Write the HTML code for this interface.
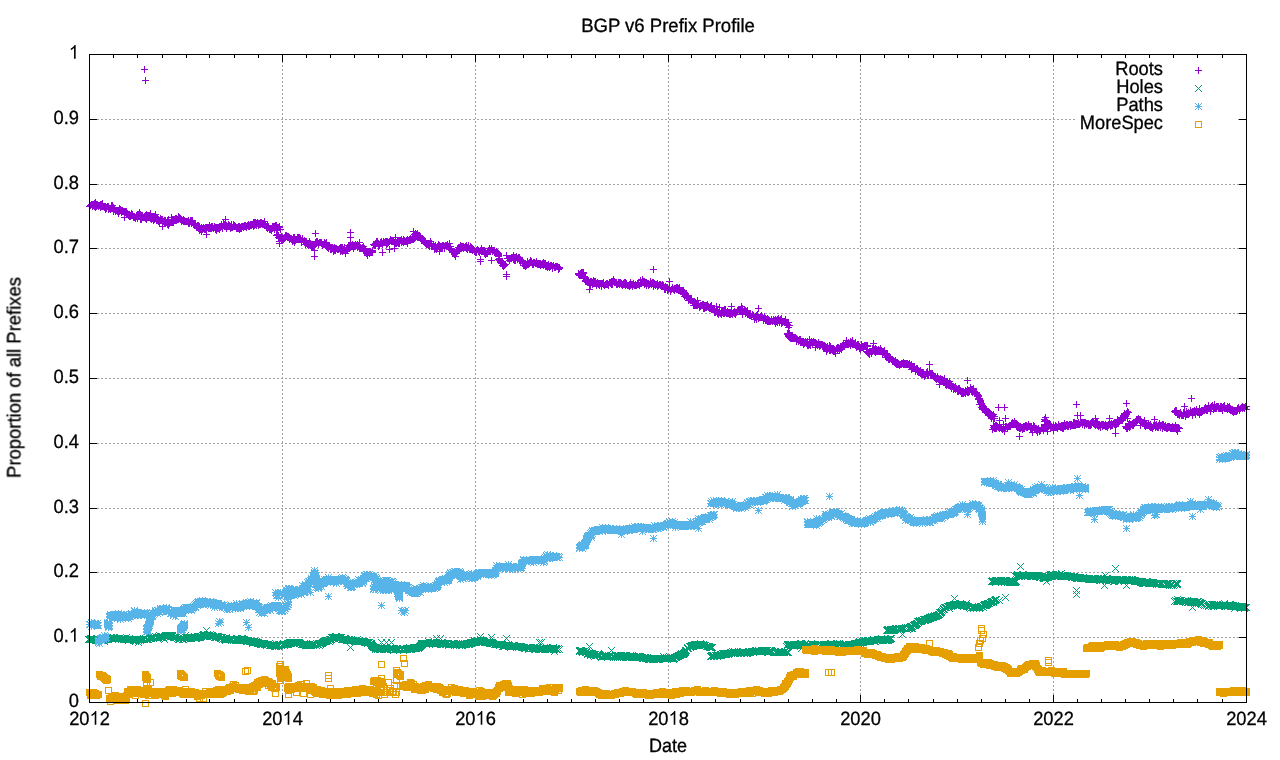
<!DOCTYPE html>
<html><head><meta charset="utf-8"><title>BGP v6 Prefix Profile</title>
<style>
html,body{margin:0;padding:0;background:#fff;}
body{width:1280px;height:760px;overflow:hidden;}
svg{display:block;}
text{font-family:"Liberation Sans",sans-serif;font-size:18.67px;fill:#000;}
.pl{fill:none;stroke:none;}
</style></head><body>
<svg width="1280" height="760" viewBox="0 0 1280 760" shape-rendering="crispEdges">
<rect width="1280" height="760" fill="#fff"/>
<defs>
<marker id="mp" markerUnits="userSpaceOnUse" markerWidth="9" markerHeight="9" refX="0" refY="0" overflow="visible" orient="0"><g fill="#9400d3"><rect x="-3" y="0" width="7" height="1"/><rect x="0" y="-3" width="1" height="7"/></g></marker>
<marker id="mx" markerUnits="userSpaceOnUse" markerWidth="9" markerHeight="9" refX="0" refY="0" overflow="visible" orient="0"><g fill="#009e73"><rect x="-3" y="-3" width="1" height="1"/><rect x="-2" y="-2" width="1" height="1"/><rect x="-1" y="-1" width="1" height="1"/><rect x="0" y="0" width="1" height="1"/><rect x="1" y="1" width="1" height="1"/><rect x="2" y="2" width="1" height="1"/><rect x="3" y="3" width="1" height="1"/><rect x="-3" y="3" width="1" height="1"/><rect x="-2" y="2" width="1" height="1"/><rect x="-1" y="1" width="1" height="1"/><rect x="1" y="-1" width="1" height="1"/><rect x="2" y="-2" width="1" height="1"/><rect x="3" y="-3" width="1" height="1"/></g></marker>
<marker id="ma" markerUnits="userSpaceOnUse" markerWidth="9" markerHeight="9" refX="0" refY="0" overflow="visible" orient="0"><g fill="#56b4e9"><rect x="-3" y="0" width="7" height="1"/><rect x="0" y="-3" width="1" height="7"/><rect x="-3" y="-3" width="1" height="1"/><rect x="-2" y="-2" width="1" height="1"/><rect x="-1" y="-1" width="1" height="1"/><rect x="1" y="1" width="1" height="1"/><rect x="2" y="2" width="1" height="1"/><rect x="3" y="3" width="1" height="1"/><rect x="-3" y="3" width="1" height="1"/><rect x="-2" y="2" width="1" height="1"/><rect x="-1" y="1" width="1" height="1"/><rect x="1" y="-1" width="1" height="1"/><rect x="2" y="-2" width="1" height="1"/><rect x="3" y="-3" width="1" height="1"/></g></marker>
<marker id="ms" markerUnits="userSpaceOnUse" markerWidth="9" markerHeight="9" refX="0" refY="0" overflow="visible" orient="0"><g fill="#e69f00"><rect x="-3" y="-3" width="7" height="1"/><rect x="-3" y="3" width="7" height="1"/><rect x="-3" y="-2" width="1" height="5"/><rect x="3" y="-2" width="1" height="5"/></g></marker>
</defs>
<g stroke="#a0a0a0" stroke-width="1" stroke-dasharray="2 2" fill="none">
<line x1="89" y1="637.5" x2="1246" y2="637.5"/><line x1="89" y1="572.5" x2="1246" y2="572.5"/><line x1="89" y1="508.5" x2="1246" y2="508.5"/><line x1="89" y1="443.5" x2="1246" y2="443.5"/><line x1="89" y1="378.5" x2="1246" y2="378.5"/><line x1="89" y1="313.5" x2="1246" y2="313.5"/><line x1="89" y1="248.5" x2="1246" y2="248.5"/><line x1="89" y1="184.5" x2="1246" y2="184.5"/><line x1="89" y1="119.5" x2="1246" y2="119.5"/><line x1="282.5" y1="703" x2="282.5" y2="54"/><line x1="475.5" y1="703" x2="475.5" y2="54"/><line x1="668.5" y1="703" x2="668.5" y2="54"/><line x1="860.5" y1="703" x2="860.5" y2="54"/><line x1="1053.5" y1="703" x2="1053.5" y2="54"/>
</g>
<g fill="#000">
<rect x="89" y="702" width="8" height="1"/><rect x="1239" y="702" width="8" height="1"/><rect x="89" y="637" width="8" height="1"/><rect x="1239" y="637" width="8" height="1"/><rect x="89" y="572" width="8" height="1"/><rect x="1239" y="572" width="8" height="1"/><rect x="89" y="508" width="8" height="1"/><rect x="1239" y="508" width="8" height="1"/><rect x="89" y="443" width="8" height="1"/><rect x="1239" y="443" width="8" height="1"/><rect x="89" y="378" width="8" height="1"/><rect x="1239" y="378" width="8" height="1"/><rect x="89" y="313" width="8" height="1"/><rect x="1239" y="313" width="8" height="1"/><rect x="89" y="248" width="8" height="1"/><rect x="1239" y="248" width="8" height="1"/><rect x="89" y="184" width="8" height="1"/><rect x="1239" y="184" width="8" height="1"/><rect x="89" y="119" width="8" height="1"/><rect x="1239" y="119" width="8" height="1"/><rect x="89" y="54" width="8" height="1"/><rect x="1239" y="54" width="8" height="1"/><rect x="89" y="695" width="1" height="8"/><rect x="89" y="54" width="1" height="8"/><rect x="282" y="695" width="1" height="8"/><rect x="282" y="54" width="1" height="8"/><rect x="475" y="695" width="1" height="8"/><rect x="475" y="54" width="1" height="8"/><rect x="668" y="695" width="1" height="8"/><rect x="668" y="54" width="1" height="8"/><rect x="860" y="695" width="1" height="8"/><rect x="860" y="54" width="1" height="8"/><rect x="1053" y="695" width="1" height="8"/><rect x="1053" y="54" width="1" height="8"/><rect x="1246" y="695" width="1" height="8"/><rect x="1246" y="54" width="1" height="8"/><rect x="113" y="699" width="1" height="4"/><rect x="113" y="54" width="1" height="4"/><rect x="137" y="699" width="1" height="4"/><rect x="137" y="54" width="1" height="4"/><rect x="162" y="699" width="1" height="4"/><rect x="162" y="54" width="1" height="4"/><rect x="186" y="699" width="1" height="4"/><rect x="186" y="54" width="1" height="4"/><rect x="209" y="699" width="1" height="4"/><rect x="209" y="54" width="1" height="4"/><rect x="234" y="699" width="1" height="4"/><rect x="234" y="54" width="1" height="4"/><rect x="258" y="699" width="1" height="4"/><rect x="258" y="54" width="1" height="4"/><rect x="306" y="699" width="1" height="4"/><rect x="306" y="54" width="1" height="4"/><rect x="330" y="699" width="1" height="4"/><rect x="330" y="54" width="1" height="4"/><rect x="354" y="699" width="1" height="4"/><rect x="354" y="54" width="1" height="4"/><rect x="378" y="699" width="1" height="4"/><rect x="378" y="54" width="1" height="4"/><rect x="402" y="699" width="1" height="4"/><rect x="402" y="54" width="1" height="4"/><rect x="426" y="699" width="1" height="4"/><rect x="426" y="54" width="1" height="4"/><rect x="451" y="699" width="1" height="4"/><rect x="451" y="54" width="1" height="4"/><rect x="499" y="699" width="1" height="4"/><rect x="499" y="54" width="1" height="4"/><rect x="523" y="699" width="1" height="4"/><rect x="523" y="54" width="1" height="4"/><rect x="547" y="699" width="1" height="4"/><rect x="547" y="54" width="1" height="4"/><rect x="571" y="699" width="1" height="4"/><rect x="571" y="54" width="1" height="4"/><rect x="595" y="699" width="1" height="4"/><rect x="595" y="54" width="1" height="4"/><rect x="619" y="699" width="1" height="4"/><rect x="619" y="54" width="1" height="4"/><rect x="643" y="699" width="1" height="4"/><rect x="643" y="54" width="1" height="4"/><rect x="691" y="699" width="1" height="4"/><rect x="691" y="54" width="1" height="4"/><rect x="715" y="699" width="1" height="4"/><rect x="715" y="54" width="1" height="4"/><rect x="740" y="699" width="1" height="4"/><rect x="740" y="54" width="1" height="4"/><rect x="764" y="699" width="1" height="4"/><rect x="764" y="54" width="1" height="4"/><rect x="788" y="699" width="1" height="4"/><rect x="788" y="54" width="1" height="4"/><rect x="812" y="699" width="1" height="4"/><rect x="812" y="54" width="1" height="4"/><rect x="836" y="699" width="1" height="4"/><rect x="836" y="54" width="1" height="4"/><rect x="884" y="699" width="1" height="4"/><rect x="884" y="54" width="1" height="4"/><rect x="908" y="699" width="1" height="4"/><rect x="908" y="54" width="1" height="4"/><rect x="933" y="699" width="1" height="4"/><rect x="933" y="54" width="1" height="4"/><rect x="957" y="699" width="1" height="4"/><rect x="957" y="54" width="1" height="4"/><rect x="981" y="699" width="1" height="4"/><rect x="981" y="54" width="1" height="4"/><rect x="1005" y="699" width="1" height="4"/><rect x="1005" y="54" width="1" height="4"/><rect x="1029" y="699" width="1" height="4"/><rect x="1029" y="54" width="1" height="4"/><rect x="1077" y="699" width="1" height="4"/><rect x="1077" y="54" width="1" height="4"/><rect x="1101" y="699" width="1" height="4"/><rect x="1101" y="54" width="1" height="4"/><rect x="1125" y="699" width="1" height="4"/><rect x="1125" y="54" width="1" height="4"/><rect x="1149" y="699" width="1" height="4"/><rect x="1149" y="54" width="1" height="4"/><rect x="1173" y="699" width="1" height="4"/><rect x="1173" y="54" width="1" height="4"/><rect x="1197" y="699" width="1" height="4"/><rect x="1197" y="54" width="1" height="4"/><rect x="1222" y="699" width="1" height="4"/><rect x="1222" y="54" width="1" height="4"/>
</g>
<rect x="1076" y="59" width="162" height="77" fill="#fff"/>
<polyline class="pl" marker-start="url(#mp)" marker-mid="url(#mp)" marker-end="url(#mp)" points="89,206 90,205 91,204 92,204 92,206 93,204 93,205 94,203 94,206 95,202 95,203 95,207 96,204 96,206 97,204 97,205 98,205 98,206 99,205 100,204 100,207 101,204 101,206 102,203 102,204 102,206 103,206 104,206 104,207 105,207 105,208 105,209 106,207 106,208 107,206 108,206 108,207 108,209 109,208 110,208 110,209 111,205 111,208 112,205 112,208 113,207 113,209 113,211 114,209 115,211 116,210 117,210 117,211 118,210 118,213 119,208 119,211 120,209 120,210 121,210 121,211 121,212 122,210 123,211 124,211 124,214 124,217 125,211 125,212 126,211 126,212 127,213 127,214 128,215 129,214 129,216 130,215 130,216 131,213 131,214 131,215 132,214 132,215 133,217 134,216 134,217 135,217 135,218 136,216 137,214 137,215 137,218 138,214 138,215 138,216 139,212 139,213 139,215 139,216 140,214 140,215 140,216 140,219 141,218 141,219 142,217 143,217 144,69 144,216 144,217 145,80 145,215 145,218 146,214 146,217 146,219 147,215 147,217 148,215 148,217 149,215 149,217 150,213 150,217 150,218 151,217 151,219 152,216 152,218 153,217 153,220 154,216 154,219 155,214 155,216 155,218 156,217 156,220 157,218 157,219 158,220 158,221 159,220 159,223 160,218 160,219 161,219 161,220 162,219 162,222 162,226 163,221 164,220 164,221 164,222 165,220 165,221 166,222 167,220 167,222 167,224 168,219 168,225 169,222 169,223 170,222 171,217 171,221 171,222 172,219 172,222 173,219 173,222 174,219 174,220 175,218 175,220 176,218 176,220 177,219 178,216 178,217 178,219 179,217 179,218 180,218 180,219 181,220 181,221 182,220 183,219 183,221 184,220 184,221 185,221 186,221 187,221 188,220 188,223 189,222 189,223 190,220 191,220 191,223 192,220 192,221 192,222 193,223 193,224 194,224 194,225 195,223 195,224 195,225 196,226 196,227 197,225 197,226 198,225 198,226 199,226 199,228 199,230 200,228 200,229 201,227 201,229 201,231 202,228 202,229 203,227 204,228 204,229 205,227 205,229 206,227 206,228 206,234 207,227 208,227 208,228 209,225 209,228 210,227 210,228 211,226 211,228 212,226 212,227 213,228 214,226 214,227 215,227 215,229 216,227 216,230 217,227 217,228 218,228 219,226 219,228 219,229 220,226 220,227 221,224 221,226 222,226 222,228 223,223 223,225 224,224 224,226 225,219 225,225 225,226 226,225 226,226 226,228 227,226 228,224 228,225 228,226 229,225 229,226 230,226 230,228 231,224 231,226 231,227 232,227 233,224 233,226 234,225 234,226 235,226 236,228 237,227 237,228 238,226 238,227 238,228 239,226 239,229 240,227 240,228 241,226 241,228 242,226 243,226 243,227 244,225 244,226 245,225 245,226 246,226 246,227 247,225 248,224 248,225 248,226 249,225 249,226 250,224 250,225 251,224 251,225 252,224 253,222 253,226 254,222 254,225 255,222 255,223 255,224 256,223 256,224 256,225 257,222 257,223 258,223 258,225 259,223 259,224 260,222 260,224 261,222 261,223 262,223 262,224 263,223 264,221 264,225 265,224 265,225 266,226 266,227 267,225 267,226 267,228 268,226 268,227 269,228 269,229 270,229 271,228 271,230 272,226 272,228 273,226 273,227 274,226 274,229 275,225 275,227 276,225 276,228 276,235 277,227 277,228 277,234 277,235 278,227 278,235 278,237 279,226 279,227 279,237 279,241 279,243 280,229 280,237 280,238 281,236 281,239 282,237 282,240 283,238 283,239 284,237 284,238 285,235 285,236 286,235 286,236 287,236 287,237 288,236 288,237 289,237 289,239 290,238 291,238 291,239 292,239 292,241 293,237 293,240 294,237 294,242 295,239 295,240 296,239 297,237 297,239 298,237 298,238 299,237 299,239 300,238 300,239 301,240 301,242 302,238 303,241 304,240 304,241 304,242 305,241 305,242 305,244 306,241 306,243 307,243 307,244 308,243 308,245 309,241 309,244 310,243 310,244 310,245 311,245 311,246 312,244 312,246 313,245 313,246 314,244 314,245 314,250 314,256 315,233 315,242 315,244 316,241 316,242 316,243 317,241 317,242 318,243 318,244 319,242 320,242 321,242 321,243 322,244 322,245 323,244 324,242 324,244 325,243 325,244 326,242 326,245 326,246 327,246 327,247 328,245 328,247 328,248 329,245 329,246 330,247 330,249 331,247 331,249 332,247 333,248 333,251 334,247 334,249 334,250 335,248 335,249 335,250 336,248 337,249 338,249 339,248 340,247 340,251 341,247 341,250 342,247 342,251 343,249 343,250 344,247 344,250 345,250 345,251 345,253 346,248 346,249 347,248 347,249 348,245 348,247 348,248 349,245 349,247 349,248 350,232 350,237 350,244 350,245 350,247 351,245 351,246 352,244 352,246 353,245 353,248 354,245 354,246 355,244 355,246 356,245 357,244 357,245 357,247 358,246 359,242 359,248 360,247 360,248 361,248 362,247 363,246 363,248 363,249 364,248 364,249 364,251 365,249 365,250 365,251 366,251 366,252 366,253 367,254 367,255 368,251 368,252 369,251 369,253 370,251 370,252 371,252 372,250 372,251 372,252 373,244 374,244 374,245 375,243 375,245 376,241 376,243 377,241 377,243 378,243 378,245 378,246 379,244 379,245 380,242 380,243 381,241 381,242 382,243 382,244 382,252 383,241 383,242 384,242 385,241 385,242 386,241 386,242 386,244 387,241 387,243 388,242 389,241 389,249 390,239 390,240 391,240 391,241 392,240 392,241 393,240 393,241 394,242 394,248 395,237 395,243 396,242 396,243 397,240 397,242 398,241 398,243 399,240 399,241 399,243 400,240 401,239 401,240 401,242 402,241 403,239 403,242 404,240 404,241 405,241 406,240 406,241 407,239 407,241 407,243 408,240 409,239 409,240 410,238 410,240 411,239 412,236 412,238 412,239 413,231 413,237 413,239 414,234 414,236 414,237 414,238 415,233 415,236 415,237 416,234 416,235 417,233 417,236 417,237 418,235 418,236 419,235 419,237 420,236 420,237 420,238 421,238 421,239 421,240 422,238 422,239 422,240 423,240 423,241 424,240 424,241 424,242 425,242 425,243 426,243 426,244 427,244 428,243 428,244 428,245 429,243 429,246 430,241 430,243 431,243 431,245 431,246 432,246 433,245 433,246 434,246 434,249 435,245 435,248 436,247 436,249 437,246 437,248 438,244 438,245 439,245 439,247 439,251 440,246 440,247 441,246 441,247 442,245 442,246 442,248 443,245 444,246 444,248 445,245 446,245 447,244 447,245 448,246 449,243 449,246 449,249 450,246 450,248 450,249 451,250 452,251 452,252 453,252 454,251 454,252 454,254 455,252 455,256 456,250 456,252 456,253 457,249 457,250 458,247 458,249 459,247 459,248 460,245 460,246 460,248 461,246 461,248 462,246 462,247 463,246 463,248 464,247 465,246 465,247 466,245 466,246 466,248 467,247 467,249 468,245 468,247 469,248 469,249 470,246 470,248 470,249 471,247 471,249 472,248 472,250 473,249 474,250 474,251 475,252 476,250 476,251 476,252 477,249 478,250 478,251 479,251 479,252 480,250 480,259 480,261 481,248 481,251 482,250 482,251 483,250 483,251 484,250 484,253 485,251 485,252 485,254 486,253 487,252 487,253 488,250 489,248 489,251 490,250 490,251 491,248 491,260 492,250 492,251 493,250 494,250 494,252 495,252 495,253 496,251 497,252 497,253 498,253 498,254 498,255 498,256 498,259 499,258 499,259 499,260 500,261 500,262 501,263 502,262 502,265 503,263 503,265 503,266 504,264 504,265 505,264 506,255 506,274 506,276 507,258 508,258 509,258 509,260 510,258 511,257 511,258 512,257 513,255 513,257 513,259 514,257 514,260 515,257 515,260 516,256 516,257 517,258 517,259 518,257 518,258 519,257 519,258 520,259 520,260 520,261 521,260 522,260 522,261 522,262 522,263 523,262 523,265 524,263 524,265 525,265 525,266 526,264 526,265 527,261 527,263 527,264 528,263 528,264 529,262 529,263 530,260 530,261 530,262 531,261 531,262 532,263 532,264 533,262 533,264 534,262 535,263 536,261 536,263 537,263 537,264 538,263 538,264 539,263 539,264 540,263 540,264 540,265 541,264 542,263 542,264 543,262 543,263 543,265 544,263 545,263 545,264 545,266 546,266 547,265 547,267 548,264 548,266 549,266 549,267 550,265 550,266 551,265 552,266 552,268 553,265 554,267 555,266 555,267 556,266 557,266 558,267 558,269 559,267 559,268 578,273 578,274 579,274 579,275 580,273 580,274 581,272 581,273 582,272 582,273 582,274 582,275 583,272 583,273 583,276 583,278 584,277 584,278 585,278 585,280 585,281 586,279 586,280 587,279 587,280 587,282 588,280 588,282 589,282 589,283 589,284 589,289 590,281 590,285 591,281 591,282 592,282 592,283 592,284 593,280 593,283 594,281 594,283 595,281 595,283 596,283 596,285 597,282 597,283 598,283 598,284 599,283 599,285 600,283 601,283 601,284 601,286 602,283 603,282 603,284 604,285 605,284 606,283 606,284 607,283 607,284 608,284 608,285 609,282 610,282 610,283 611,281 611,284 612,281 612,284 613,279 613,281 614,281 614,282 615,282 616,282 616,284 617,284 618,282 618,283 619,282 619,284 620,282 620,283 621,283 621,284 622,284 622,285 623,283 623,284 624,282 624,284 625,282 625,285 626,283 626,284 627,285 628,285 629,284 629,286 630,282 630,285 631,284 632,284 632,286 633,283 633,284 634,285 635,284 635,285 636,285 637,283 637,284 638,282 638,284 639,285 640,280 640,282 640,283 641,282 641,283 642,279 642,282 643,281 643,282 644,281 644,282 644,284 645,283 646,282 646,284 646,285 647,283 648,283 648,284 648,285 649,284 650,281 650,283 651,283 651,284 652,282 652,283 653,269 653,282 653,286 654,283 654,284 655,284 655,285 656,284 657,283 657,285 657,286 658,285 659,284 660,284 660,285 661,285 662,284 662,286 663,285 663,286 664,289 665,286 665,287 665,289 666,287 667,287 667,288 667,290 668,289 669,281 669,287 669,288 670,290 670,291 671,289 672,287 672,288 673,289 674,288 674,289 674,290 675,288 676,287 676,289 677,287 677,289 678,288 678,289 678,290 679,287 679,289 679,290 680,290 680,291 681,290 681,291 682,291 682,292 683,290 683,291 683,294 684,292 684,296 685,295 686,295 686,296 686,297 687,296 688,296 688,297 688,298 688,300 689,298 689,299 690,298 690,299 691,298 691,299 692,302 693,302 693,303 693,305 694,303 694,305 695,302 695,303 695,305 696,304 696,305 697,300 697,304 697,305 698,303 699,306 699,307 700,305 700,306 701,305 702,304 702,305 703,304 703,308 704,305 704,307 704,308 705,305 705,307 706,305 706,306 706,307 707,304 707,306 708,306 708,307 709,307 709,308 710,306 710,308 711,305 711,308 712,308 712,309 713,308 713,309 714,309 714,312 715,311 715,312 716,306 716,310 716,311 717,310 717,313 718,312 718,313 718,314 719,307 719,312 720,313 721,310 721,311 721,314 722,310 722,312 723,310 723,312 723,313 724,309 724,313 725,309 725,311 725,312 726,312 726,313 727,311 727,312 727,313 728,312 728,313 729,312 729,313 729,314 730,312 730,314 731,306 731,312 731,313 732,313 732,314 733,312 734,311 734,313 735,312 735,314 736,312 737,310 737,311 738,309 739,309 739,311 740,309 740,310 741,306 741,309 741,310 742,308 742,314 743,311 744,310 745,310 745,313 746,311 746,312 747,310 747,314 748,313 748,314 749,313 749,314 749,315 750,314 750,315 751,316 752,314 753,315 753,316 754,317 754,319 755,316 755,317 756,315 756,316 756,319 757,314 757,316 758,308 758,318 759,317 760,316 760,317 761,315 761,316 761,317 762,317 763,319 763,320 764,316 764,318 765,318 765,319 765,320 766,319 766,320 767,318 767,321 768,319 768,321 769,320 769,321 770,321 771,319 771,320 772,321 773,319 773,320 774,320 774,321 775,319 775,320 775,323 776,320 776,321 777,319 777,322 778,318 778,319 779,320 779,322 780,319 780,320 781,318 781,323 782,321 782,322 783,321 784,321 784,322 785,319 785,321 785,322 786,322 786,323 787,322 787,324 787,333 787,334 788,322 788,325 788,327 788,333 788,335 788,336 789,325 789,333 789,334 789,337 790,335 790,336 790,338 791,335 791,337 791,338 792,335 792,338 793,337 793,338 794,337 795,337 795,338 796,338 796,341 797,339 798,341 799,339 799,340 800,339 800,342 801,341 801,342 802,341 802,342 803,341 803,344 804,342 804,343 805,341 806,342 806,343 807,341 807,343 807,345 808,345 809,339 809,341 809,344 810,342 810,345 811,341 812,343 813,341 813,342 814,342 815,342 815,343 815,347 816,343 816,344 817,344 817,345 818,342 818,343 818,344 819,344 819,346 820,344 820,345 821,344 822,344 822,346 823,345 823,347 824,345 824,347 825,346 825,347 826,347 826,349 826,351 827,346 827,349 828,348 829,345 829,346 829,349 829,350 830,346 830,350 831,348 831,349 832,350 833,348 833,350 833,351 834,349 834,351 835,351 835,353 836,348 837,347 837,349 837,350 838,347 838,348 839,348 839,350 840,348 841,347 841,349 842,345 842,346 843,343 843,344 843,346 844,345 844,346 845,343 845,344 846,340 846,343 846,344 847,343 847,344 848,342 848,344 849,343 850,341 850,345 851,342 851,343 852,340 852,343 852,344 853,343 853,344 854,343 854,344 855,342 855,345 856,346 856,347 857,344 857,345 858,344 858,345 858,346 859,346 859,348 860,347 860,349 861,344 861,347 862,346 862,347 863,346 863,348 864,345 864,346 865,345 865,346 866,345 866,346 866,351 867,345 867,346 867,349 867,352 868,352 868,353 869,352 869,354 870,351 871,352 871,353 872,348 872,350 873,343 873,349 873,350 874,349 874,351 875,348 875,352 876,349 876,351 877,350 877,351 878,349 878,350 878,351 879,350 879,351 880,348 880,350 881,350 882,352 882,353 882,354 883,352 884,350 884,353 885,353 885,354 885,355 886,354 886,355 886,357 887,354 887,355 887,357 888,356 888,357 888,359 889,356 889,357 889,359 890,358 891,359 892,359 892,360 892,361 893,360 893,361 894,361 894,362 895,360 895,361 895,363 896,362 896,363 896,364 897,362 897,364 898,364 899,364 899,365 900,364 901,363 901,364 902,363 903,362 903,364 904,363 904,364 905,363 905,364 906,363 906,364 907,363 907,364 908,364 909,363 909,364 909,366 910,365 910,366 911,364 911,366 911,369 912,366 913,366 913,367 914,366 914,368 915,370 915,371 916,368 917,368 917,370 917,371 918,370 918,372 919,372 920,370 920,371 920,373 921,372 921,374 922,372 922,374 923,372 923,374 924,376 925,374 925,375 926,372 926,373 927,371 927,375 928,374 928,375 929,364 929,371 930,373 930,374 930,375 931,373 931,374 931,375 932,373 932,374 933,375 933,376 934,376 934,377 935,378 936,378 936,379 937,376 937,378 938,378 938,379 939,379 939,384 940,378 940,381 941,379 941,381 942,379 942,380 943,380 943,381 943,382 944,378 944,381 945,383 945,384 946,382 946,385 947,381 947,382 947,384 948,383 949,381 949,384 949,385 950,383 950,386 951,385 951,387 951,388 952,386 953,387 953,388 953,389 954,387 955,386 955,389 956,388 957,389 957,390 957,391 958,388 958,390 958,391 959,388 960,390 960,391 961,391 961,393 962,391 962,392 962,393 963,391 963,393 964,392 965,390 965,391 965,393 966,391 967,380 967,389 967,392 968,391 968,392 969,390 969,391 970,387 970,388 970,389 971,389 971,391 972,389 972,392 973,388 973,391 974,391 974,392 974,393 975,392 976,392 976,393 976,394 977,394 977,395 978,395 978,396 978,398 978,399 979,398 979,399 979,404 980,400 980,401 980,402 981,403 981,404 981,407 982,405 982,406 982,407 982,408 982,409 983,408 983,409 984,408 984,409 984,410 985,409 985,410 985,411 985,412 986,409 987,411 987,412 987,413 988,411 988,414 989,412 989,415 990,413 990,415 990,416 991,416 991,418 992,415 992,416 992,429 993,414 993,418 993,425 993,427 994,416 994,418 994,426 994,427 994,428 995,425 995,428 996,425 996,428 997,426 998,407 998,427 999,420 999,427 999,428 1000,427 1001,427 1001,428 1002,429 1003,424 1003,426 1003,428 1004,407 1004,429 1004,431 1005,418 1005,426 1005,428 1006,426 1007,427 1007,428 1008,426 1009,425 1009,426 1010,425 1010,426 1011,423 1011,424 1012,422 1012,424 1013,423 1013,424 1014,421 1014,423 1015,423 1015,424 1016,423 1016,426 1017,425 1017,427 1018,425 1018,427 1019,426 1019,428 1019,436 1020,426 1020,428 1021,427 1022,427 1022,428 1022,429 1023,426 1023,428 1024,426 1024,427 1024,428 1025,425 1026,425 1026,427 1027,426 1027,427 1028,424 1028,425 1028,426 1029,426 1030,426 1030,427 1030,429 1031,426 1031,427 1031,428 1032,429 1032,432 1033,425 1033,427 1034,426 1034,427 1034,428 1035,428 1035,429 1036,428 1036,430 1037,431 1037,432 1038,428 1038,429 1039,431 1040,430 1041,427 1042,427 1042,428 1043,427 1043,430 1044,419 1044,421 1044,425 1044,426 1044,427 1045,417 1045,420 1045,427 1045,428 1046,420 1046,421 1046,426 1046,428 1047,424 1047,428 1047,431 1048,425 1048,426 1049,425 1050,424 1050,426 1051,426 1051,427 1052,427 1053,425 1053,426 1053,430 1054,427 1055,425 1055,426 1056,426 1056,427 1057,428 1058,424 1058,426 1059,426 1060,426 1060,427 1061,425 1061,427 1062,425 1062,428 1063,425 1063,427 1063,428 1064,423 1064,426 1065,425 1065,426 1066,424 1066,425 1067,424 1067,426 1068,425 1068,426 1069,424 1070,424 1070,426 1071,424 1071,425 1072,425 1073,422 1073,424 1073,425 1074,422 1074,425 1075,423 1075,425 1076,404 1076,423 1076,424 1077,415 1077,423 1077,424 1078,422 1078,424 1079,424 1080,415 1080,422 1080,423 1081,422 1082,422 1082,424 1083,422 1084,422 1084,424 1084,425 1085,422 1085,423 1086,423 1086,424 1087,423 1088,423 1088,425 1089,424 1089,425 1090,423 1090,425 1091,422 1091,424 1092,422 1093,422 1093,423 1094,423 1094,424 1095,418 1095,425 1096,422 1096,424 1097,422 1097,425 1098,424 1098,426 1099,424 1099,425 1100,425 1100,427 1101,424 1102,424 1102,426 1103,424 1103,425 1104,425 1105,424 1105,425 1105,426 1106,425 1106,426 1107,425 1107,427 1108,424 1108,425 1109,418 1109,424 1110,424 1110,425 1110,426 1111,423 1111,425 1112,424 1112,425 1113,423 1114,423 1114,424 1115,423 1115,426 1115,433 1116,422 1116,424 1117,419 1117,420 1117,423 1118,420 1118,422 1118,423 1119,420 1119,421 1120,420 1121,419 1121,420 1122,418 1122,419 1122,420 1123,415 1123,416 1123,418 1124,413 1124,414 1124,416 1125,414 1125,415 1125,416 1125,426 1126,403 1126,413 1126,414 1126,426 1126,427 1126,428 1127,411 1127,412 1127,418 1127,427 1127,428 1128,412 1128,424 1128,426 1129,423 1129,427 1130,424 1130,425 1130,426 1131,424 1132,423 1132,424 1132,425 1133,423 1133,425 1134,422 1134,423 1135,421 1135,422 1136,419 1136,421 1137,419 1137,420 1138,418 1138,419 1139,419 1139,420 1140,419 1140,420 1140,425 1141,421 1141,422 1142,422 1142,423 1143,422 1143,423 1144,420 1144,422 1144,423 1144,425 1145,423 1145,426 1146,423 1146,424 1146,425 1147,425 1148,423 1148,425 1149,425 1149,426 1150,424 1150,426 1150,427 1151,426 1151,427 1152,428 1153,425 1153,426 1154,419 1154,425 1155,425 1155,427 1156,424 1156,425 1156,426 1157,427 1158,425 1158,427 1159,423 1159,424 1160,425 1160,426 1160,427 1161,425 1162,424 1162,425 1162,428 1163,424 1163,426 1164,426 1164,427 1165,425 1165,427 1166,427 1166,428 1167,426 1167,427 1167,428 1168,426 1168,427 1169,426 1169,427 1170,427 1170,428 1171,427 1171,428 1172,426 1172,428 1173,427 1173,428 1174,411 1174,427 1175,410 1175,412 1175,425 1175,428 1176,410 1176,411 1176,427 1176,429 1177,413 1177,414 1177,427 1177,431 1178,413 1178,414 1178,427 1178,428 1179,414 1179,415 1179,428 1180,412 1180,413 1181,414 1181,415 1182,415 1183,412 1183,413 1183,415 1184,406 1184,412 1184,413 1185,415 1185,416 1186,411 1186,413 1186,414 1187,413 1187,414 1188,412 1188,414 1189,413 1190,410 1190,412 1191,398 1191,412 1192,411 1192,413 1192,415 1193,411 1194,410 1194,411 1195,411 1195,414 1196,409 1196,411 1197,411 1197,412 1198,411 1198,412 1199,408 1199,411 1199,414 1200,412 1201,410 1201,411 1201,412 1202,410 1203,410 1204,408 1204,409 1204,410 1205,407 1205,409 1206,408 1206,409 1206,410 1207,408 1207,410 1208,405 1208,406 1208,408 1209,408 1210,407 1210,411 1211,406 1211,408 1212,405 1212,406 1213,408 1213,409 1214,404 1214,408 1215,407 1215,408 1216,406 1216,408 1217,406 1218,406 1218,407 1218,408 1219,408 1220,406 1220,408 1221,406 1221,407 1221,408 1222,407 1222,410 1223,406 1223,407 1224,405 1224,407 1224,408 1225,408 1226,408 1227,406 1227,407 1227,409 1228,407 1228,408 1229,406 1229,407 1229,409 1230,408 1230,410 1231,409 1231,410 1232,410 1232,411 1233,410 1233,412 1234,410 1234,411 1235,410 1235,411 1236,410 1236,411 1237,408 1237,409 1237,410 1238,407 1238,408 1239,409 1239,410 1240,408 1241,407 1242,406 1242,407 1242,408 1243,407 1244,407 1244,408 1245,406 1246,406 1246,409"/>
<polyline class="pl" marker-start="url(#mx)" marker-mid="url(#mx)" marker-end="url(#mx)" points="88,639 89,639 90,638 90,639 91,638 91,639 92,639 93,639 94,639 95,639 95,640 96,640 97,640 98,640 99,640 100,639 101,639 101,640 102,640 103,639 104,639 104,640 104,641 105,639 106,638 106,639 107,638 107,639 108,638 108,639 109,638 110,637 111,637 111,638 112,638 113,637 113,638 114,638 115,638 116,638 117,638 118,638 118,639 119,638 120,637 121,638 121,639 122,638 123,638 123,639 124,638 124,639 125,638 125,639 126,637 126,639 127,639 128,639 128,640 129,638 129,639 130,639 131,639 132,639 133,639 133,640 134,639 135,640 135,641 136,640 137,639 138,639 138,640 138,642 139,639 140,639 140,640 141,639 142,639 143,638 143,639 144,639 145,638 146,639 147,639 148,639 149,638 150,637 150,638 151,637 151,638 152,637 153,637 153,638 154,637 155,636 156,637 157,637 157,638 158,636 158,637 159,635 160,636 160,637 161,636 161,637 162,636 162,637 163,637 164,636 164,639 165,636 166,635 166,636 167,635 167,636 168,635 168,636 169,635 170,635 171,635 171,636 172,635 172,636 173,637 174,636 174,637 175,637 176,637 177,638 178,639 179,639 180,638 181,638 182,639 183,639 184,638 185,635 185,637 186,637 186,638 187,638 188,637 188,638 189,637 190,637 190,638 191,637 191,638 192,637 193,637 194,636 194,637 195,637 195,638 196,637 196,638 197,636 197,637 198,636 198,637 199,636 199,637 200,636 200,637 201,636 202,635 203,634 203,635 204,634 204,635 205,635 205,636 206,630 206,635 206,636 207,634 207,635 208,635 209,635 209,636 210,634 210,636 211,635 211,636 212,635 212,636 213,636 214,637 215,636 215,637 216,636 216,637 217,636 218,636 218,637 219,637 220,638 221,637 221,638 222,637 222,639 223,638 224,638 224,639 225,639 225,640 226,637 226,638 227,639 228,639 229,639 230,639 231,639 232,639 233,640 234,639 235,640 236,638 236,639 236,640 237,638 237,640 238,639 238,640 239,639 239,640 240,639 240,640 241,638 241,640 242,638 242,639 242,640 243,639 243,640 244,639 244,640 245,640 246,640 246,641 247,640 247,641 248,640 249,641 250,641 251,641 252,641 252,642 252,643 253,641 253,642 254,641 254,642 255,642 256,641 256,642 257,642 257,643 258,642 258,643 259,643 260,643 260,644 261,643 261,644 262,643 262,644 263,643 264,643 264,644 265,644 266,644 266,645 267,644 268,644 269,643 269,645 270,644 270,645 271,645 272,644 272,645 273,644 273,645 274,645 274,646 275,646 276,645 276,646 277,645 278,645 278,646 279,645 280,644 281,645 282,644 283,643 283,644 284,644 284,645 285,644 286,644 287,643 287,644 288,643 288,644 289,642 289,643 290,642 290,643 291,642 291,643 292,642 293,642 294,642 295,642 296,642 297,642 298,642 299,642 299,643 300,643 301,644 302,644 303,644 304,644 305,644 305,645 306,644 306,645 307,644 307,645 308,645 309,644 309,645 310,643 310,645 311,644 311,645 312,643 313,644 313,645 314,644 315,644 316,643 316,645 317,644 318,644 319,643 319,645 320,643 320,644 321,643 322,642 322,643 323,641 323,642 324,641 325,640 325,641 326,640 326,641 327,640 328,640 329,639 329,641 330,639 330,640 331,637 331,639 332,637 332,638 333,637 333,638 334,637 335,636 335,637 336,636 336,637 337,637 338,637 338,638 339,637 339,638 340,637 340,638 341,637 341,639 342,639 343,639 344,638 344,639 345,638 345,639 346,639 346,640 347,640 348,639 348,640 349,639 349,640 350,640 350,647 351,639 351,640 352,640 353,640 354,641 355,640 355,641 356,640 357,639 357,641 358,641 359,640 359,641 360,641 361,641 362,641 363,641 364,641 364,642 365,642 366,642 367,642 367,643 368,642 369,642 370,643 371,643 371,644 371,645 372,645 372,646 373,646 373,647 374,647 375,647 375,648 375,649 376,648 377,648 377,649 378,647 378,648 379,648 379,649 380,649 381,642 381,648 381,649 382,648 383,648 384,647 384,648 384,649 385,648 385,649 386,642 386,648 386,649 387,648 387,649 388,649 389,648 390,648 390,649 391,642 391,649 392,648 392,649 393,648 393,650 394,649 395,649 396,648 396,649 397,649 398,649 399,649 400,648 401,649 402,649 403,648 403,650 404,649 405,649 406,648 406,649 407,648 407,649 408,648 409,647 409,649 410,649 411,648 411,649 412,648 413,647 413,648 414,647 414,648 415,648 416,647 416,648 417,647 418,647 418,648 419,646 419,647 420,645 420,646 421,643 421,644 421,645 422,643 422,644 423,643 424,643 425,643 426,643 426,644 427,643 428,641 428,643 429,643 430,642 430,643 431,642 431,643 432,642 432,643 433,642 434,642 434,643 435,643 435,644 436,638 436,642 436,643 437,643 438,642 438,643 439,643 440,638 440,643 440,644 441,642 441,643 442,642 442,643 442,644 443,643 443,644 444,643 445,644 446,643 446,644 447,643 448,644 448,645 449,644 450,644 451,643 452,643 452,644 453,643 454,643 454,644 455,644 456,644 456,645 457,644 458,643 458,644 459,644 459,645 460,644 461,644 461,645 462,643 462,645 463,644 464,644 465,644 466,643 466,644 467,643 468,643 468,644 469,643 469,644 470,642 470,643 471,642 471,643 472,642 473,642 474,640 474,641 474,642 475,642 476,641 476,642 477,640 477,641 478,641 478,642 479,641 480,636 480,639 480,640 481,640 481,641 482,640 482,641 483,640 483,641 484,641 484,642 485,642 486,642 487,641 487,642 488,642 489,642 489,643 490,643 491,637 491,642 491,643 492,642 492,643 493,643 494,644 495,644 496,644 497,644 498,644 499,644 499,645 500,644 501,644 502,644 502,646 503,645 503,646 504,645 504,646 505,645 506,638 506,645 507,645 508,644 508,645 509,645 509,646 510,646 510,647 511,646 512,645 512,646 513,645 513,646 514,645 514,646 515,646 516,646 517,646 518,646 518,647 519,646 520,646 521,646 521,647 522,647 523,647 524,647 524,648 525,648 526,647 527,647 528,648 528,649 529,647 529,648 530,647 531,648 532,648 533,647 533,648 534,647 534,649 535,648 535,649 536,647 536,648 537,647 537,648 538,649 539,642 539,648 539,649 540,648 540,649 541,642 541,648 542,648 542,649 543,648 544,647 544,649 545,649 546,647 546,648 547,649 548,648 548,649 549,648 549,649 550,648 550,649 551,648 551,649 552,648 553,647 553,648 553,649 554,649 554,651 555,648 556,648 556,649 557,649 558,648 559,649 579,650 579,651 580,650 581,650 581,651 582,651 582,652 583,651 584,651 585,652 586,652 587,650 587,653 587,654 588,653 589,646 589,652 589,653 590,653 590,654 590,655 591,653 591,654 592,654 593,654 593,655 594,654 594,656 595,654 596,655 597,655 598,653 598,654 599,654 599,655 600,655 601,656 601,657 602,655 603,656 604,655 604,656 605,656 606,655 606,656 607,656 608,656 609,656 610,656 611,650 611,655 612,656 613,656 613,657 614,656 615,655 615,657 616,655 616,656 617,656 617,657 618,655 618,656 619,656 619,657 620,655 620,656 621,655 621,656 622,656 623,655 623,656 624,655 624,656 625,655 625,656 626,656 626,657 627,657 628,656 628,657 629,656 629,657 630,655 630,656 631,656 631,657 632,655 632,657 633,656 633,657 634,657 635,657 636,656 636,657 637,656 637,657 638,656 639,656 639,657 640,656 640,657 641,657 642,657 642,658 643,658 644,657 645,657 645,658 646,658 647,657 647,658 648,658 648,659 649,659 650,658 650,659 651,658 652,658 652,659 653,659 654,658 654,659 655,658 656,658 656,659 657,658 657,659 658,658 658,659 659,658 660,658 661,658 662,658 663,656 663,658 664,657 664,658 665,658 665,659 666,657 666,658 667,658 668,657 668,658 669,658 670,657 670,658 671,658 672,658 673,658 673,659 674,658 675,657 676,656 676,657 677,656 678,655 678,656 679,655 680,654 680,655 681,653 681,654 682,654 683,653 683,654 684,652 684,653 685,650 685,651 685,652 686,650 687,647 687,648 688,648 689,646 690,646 690,647 691,645 691,646 692,645 692,646 693,645 693,646 694,644 694,645 695,644 696,644 697,644 698,644 699,644 700,643 700,644 701,644 701,645 702,645 703,644 703,645 704,645 705,645 706,646 707,646 708,646 709,646 709,647 710,647 710,656 711,647 711,655 711,656 712,647 712,655 713,655 713,656 714,656 715,655 716,655 717,654 717,655 717,656 718,655 719,655 720,654 720,655 721,654 721,655 722,653 723,653 723,654 724,653 724,654 725,653 725,654 726,653 726,654 727,653 728,653 728,654 729,653 730,652 731,652 731,653 732,651 733,652 733,653 734,651 734,652 735,652 735,653 736,652 737,652 737,653 738,652 739,652 740,652 740,653 741,653 742,651 742,652 743,651 743,652 744,652 744,653 745,652 746,652 746,653 747,652 747,653 748,651 748,652 749,652 750,652 751,651 752,651 753,651 753,652 754,651 755,650 755,651 756,650 756,651 757,651 758,650 758,651 759,651 760,651 761,650 761,651 762,650 763,650 763,651 764,651 765,650 765,651 766,650 766,651 767,650 767,652 768,651 768,652 769,650 769,651 770,650 771,650 771,651 772,651 773,652 774,651 775,652 776,652 777,652 778,651 778,652 779,652 780,652 781,651 781,652 782,652 783,652 784,651 784,652 785,651 786,646 786,652 787,644 787,645 787,652 788,644 788,652 789,644 790,644 790,645 791,644 792,645 793,645 794,644 794,645 794,646 795,645 796,644 796,645 797,644 797,645 798,644 799,644 800,643 801,643 801,644 801,648 802,644 803,645 804,644 804,645 805,643 805,644 806,645 807,644 807,645 808,645 809,645 810,645 811,643 811,644 812,644 813,644 814,644 814,645 815,644 816,645 817,645 818,644 819,645 820,644 821,644 822,645 823,644 823,645 824,644 824,645 825,644 826,644 827,644 828,644 829,644 830,643 830,644 831,643 831,644 832,644 833,644 833,646 834,644 835,644 835,645 836,644 836,645 837,643 837,645 838,644 839,643 839,644 840,644 841,645 842,645 843,644 843,645 844,644 844,645 845,644 846,644 846,645 847,645 848,644 848,645 849,644 850,644 851,644 851,645 852,644 852,645 853,644 854,643 854,644 855,643 855,644 856,643 856,644 857,643 858,642 858,643 859,641 859,642 860,642 860,643 861,642 862,641 862,642 863,640 863,642 864,641 865,640 865,641 866,641 867,640 867,641 868,640 868,641 869,640 869,641 870,641 871,640 872,640 873,639 873,640 874,640 874,641 875,641 876,640 877,639 877,640 878,639 878,640 879,639 880,639 880,640 881,638 881,639 882,639 883,639 883,640 884,639 885,639 885,640 886,630 886,639 886,640 887,629 887,630 887,639 887,640 888,629 888,630 888,639 888,640 889,630 889,639 890,629 890,630 890,638 890,639 891,629 891,630 891,638 892,629 892,630 893,629 893,630 894,629 894,630 895,628 895,629 896,628 897,629 898,628 899,628 899,629 900,629 901,628 901,629 902,628 902,634 903,628 904,628 905,627 906,628 907,627 907,629 908,628 909,627 909,628 910,626 910,627 911,626 911,627 911,628 912,626 912,628 913,625 914,624 914,625 915,624 915,625 916,623 916,624 917,621 917,623 918,621 918,622 919,620 919,621 920,621 921,620 921,621 922,620 923,619 924,619 924,620 925,619 925,620 926,619 927,618 927,619 928,618 928,619 929,617 929,618 930,617 930,618 931,616 931,617 932,617 933,616 933,617 934,615 934,616 935,616 936,615 936,616 937,615 938,614 938,615 939,612 939,614 940,612 940,613 941,611 941,612 942,610 943,608 943,609 944,607 944,609 945,607 946,607 947,606 948,606 948,607 949,605 949,606 949,608 950,605 951,605 951,606 952,605 953,604 953,605 954,598 954,604 955,603 955,604 956,604 956,605 957,604 957,605 958,604 958,605 959,604 959,605 960,603 960,604 961,604 961,605 962,604 963,605 963,606 964,605 965,604 965,605 966,603 966,605 966,606 967,606 968,606 969,607 970,608 971,607 972,607 973,607 973,608 974,606 974,607 975,607 976,607 976,608 977,607 978,606 979,607 979,608 980,607 981,606 982,606 983,605 983,607 984,604 984,605 985,604 985,605 986,604 986,605 987,603 987,604 988,603 989,603 990,602 991,581 991,601 991,602 992,580 992,581 992,601 993,581 993,601 993,602 994,581 994,600 995,580 995,581 995,582 995,599 995,600 996,580 996,581 996,599 997,580 998,580 998,581 999,581 999,600 1000,580 1000,581 1001,580 1001,581 1002,581 1003,580 1003,581 1004,580 1004,581 1004,582 1005,580 1005,597 1006,580 1007,581 1007,582 1008,581 1009,581 1009,582 1010,581 1010,582 1011,581 1011,582 1012,581 1012,582 1013,582 1014,575 1014,581 1014,582 1015,576 1015,581 1015,582 1016,575 1016,576 1016,581 1017,574 1017,575 1018,575 1019,575 1019,576 1020,566 1020,575 1021,575 1021,576 1022,574 1022,575 1023,574 1023,575 1024,575 1024,576 1025,575 1025,576 1026,575 1027,575 1028,575 1029,575 1030,575 1030,576 1031,575 1032,575 1032,576 1033,575 1033,576 1034,575 1035,575 1035,576 1036,575 1037,575 1037,576 1038,575 1038,576 1039,576 1039,577 1040,576 1040,577 1041,576 1042,577 1043,577 1043,578 1044,577 1044,578 1045,577 1045,578 1046,577 1046,581 1047,576 1047,577 1048,576 1048,577 1049,575 1050,574 1050,575 1051,574 1052,574 1052,575 1053,575 1054,575 1055,574 1055,575 1055,576 1056,574 1056,576 1057,576 1058,575 1058,576 1059,574 1059,575 1060,576 1061,573 1061,575 1062,575 1062,576 1063,575 1064,575 1064,576 1065,575 1065,576 1066,576 1067,575 1067,576 1068,576 1069,576 1070,576 1071,576 1071,577 1072,577 1073,576 1074,576 1074,577 1075,577 1076,577 1076,578 1076,590 1076,594 1077,577 1077,578 1078,577 1078,578 1079,577 1080,577 1080,578 1081,578 1082,578 1083,577 1083,578 1084,578 1085,578 1086,578 1087,578 1088,579 1089,578 1089,579 1090,579 1091,578 1091,579 1092,579 1093,578 1093,579 1094,578 1094,579 1095,578 1095,579 1096,579 1097,578 1098,578 1098,579 1099,579 1099,580 1100,579 1100,580 1101,578 1101,579 1102,579 1102,580 1103,579 1104,579 1104,585 1105,575 1105,579 1106,578 1106,579 1107,578 1107,579 1108,579 1109,579 1109,580 1110,579 1110,580 1111,579 1111,580 1112,579 1112,580 1113,581 1114,579 1114,581 1115,568 1115,579 1115,580 1116,579 1117,579 1117,580 1118,580 1118,581 1119,579 1119,580 1120,579 1120,580 1121,579 1121,580 1122,579 1123,579 1123,580 1124,580 1125,580 1126,579 1126,580 1126,585 1127,579 1127,580 1128,580 1129,579 1129,580 1130,580 1131,579 1131,580 1132,579 1132,580 1133,580 1134,580 1134,581 1135,580 1135,581 1136,581 1137,581 1138,581 1139,581 1140,581 1140,582 1141,582 1142,581 1142,582 1142,583 1143,582 1143,583 1144,582 1144,583 1145,582 1145,583 1146,581 1146,582 1147,581 1147,582 1148,582 1149,582 1150,582 1150,583 1151,582 1152,582 1152,583 1153,582 1153,583 1154,583 1155,583 1156,583 1156,584 1157,583 1158,584 1159,583 1160,583 1161,583 1161,584 1162,583 1163,584 1164,583 1165,584 1166,583 1166,584 1167,583 1167,584 1168,583 1168,584 1169,583 1169,585 1170,584 1171,584 1171,585 1172,584 1173,583 1173,585 1174,584 1174,601 1175,583 1175,600 1176,583 1176,584 1176,601 1177,583 1177,584 1177,599 1177,601 1178,600 1178,601 1179,600 1179,601 1180,600 1180,601 1181,600 1182,601 1183,601 1184,601 1185,600 1185,601 1185,602 1186,601 1187,600 1187,602 1188,601 1188,602 1189,601 1190,601 1190,602 1191,602 1192,601 1192,602 1192,607 1193,601 1193,602 1194,601 1195,602 1196,602 1197,601 1197,602 1198,601 1198,603 1199,602 1200,602 1200,603 1201,603 1201,604 1202,603 1203,604 1204,605 1205,604 1206,605 1207,604 1208,605 1208,606 1209,604 1209,605 1210,605 1211,604 1211,606 1212,604 1213,605 1213,606 1214,604 1214,605 1215,605 1216,604 1216,605 1217,605 1218,605 1219,605 1219,606 1220,605 1221,605 1222,605 1223,604 1224,603 1224,605 1224,606 1225,605 1226,605 1227,605 1227,606 1228,605 1229,604 1229,605 1230,604 1230,605 1231,605 1231,606 1232,605 1232,606 1233,605 1233,606 1234,606 1234,608 1235,605 1235,606 1236,606 1237,606 1238,606 1239,606 1240,606 1240,607 1241,606 1241,607 1242,606 1242,607 1243,607 1244,607 1244,608 1245,607 1246,607"/>
<polyline class="pl" marker-start="url(#ma)" marker-mid="url(#ma)" marker-end="url(#ma)" points="89,624 90,624 91,622 91,623 91,626 92,623 92,624 93,624 94,625 95,623 95,624 96,625 97,623 97,625 98,625 98,640 98,641 98,642 99,640 99,643 100,638 100,639 101,638 101,639 102,637 102,638 103,637 103,638 104,635 104,640 105,636 105,637 105,638 106,637 107,622 107,623 107,624 108,625 108,626 108,627 109,616 109,617 109,623 109,625 109,626 110,614 110,615 110,616 111,615 112,615 112,616 113,616 113,617 114,614 114,615 114,617 115,614 115,615 116,614 117,615 117,616 117,618 118,613 118,617 119,615 119,617 120,615 120,616 120,619 121,614 121,616 122,615 123,614 123,616 124,614 124,617 125,617 125,618 126,617 127,616 128,616 128,618 129,615 129,616 130,616 131,613 131,614 131,615 132,614 132,615 133,614 134,610 134,611 134,613 135,612 135,614 136,612 137,612 137,615 138,612 138,615 139,613 140,613 141,613 141,614 142,614 143,614 144,612 144,613 144,615 145,613 146,613 146,628 146,629 146,631 147,627 147,628 147,629 147,630 147,631 148,624 148,625 148,626 148,627 149,620 149,621 149,622 149,623 149,625 150,616 150,617 150,618 150,619 150,620 150,621 151,615 151,616 152,612 152,615 152,616 153,614 154,613 155,610 155,611 155,612 156,612 157,610 157,613 158,610 158,611 159,611 159,612 160,608 160,609 160,610 161,609 161,610 161,611 162,608 162,609 163,608 163,610 163,611 164,610 165,609 165,611 166,607 166,608 166,609 167,609 167,610 168,609 168,611 169,610 169,611 170,613 171,610 171,613 172,612 173,610 173,614 173,615 174,610 174,611 175,611 175,616 176,611 176,612 176,613 177,613 178,610 178,612 178,613 179,612 179,613 180,611 180,612 180,613 180,628 180,629 180,630 181,611 181,612 181,613 181,627 181,628 181,629 181,630 182,610 182,611 182,612 182,626 182,627 182,629 183,609 183,610 183,613 183,624 183,625 183,626 183,627 184,608 184,609 184,623 184,624 184,625 185,607 186,607 186,608 187,607 188,607 188,608 188,609 189,609 190,607 190,609 191,609 191,610 192,607 192,608 193,606 193,607 194,605 195,604 195,606 195,607 196,603 197,602 197,604 197,605 198,601 198,602 198,604 199,603 199,604 200,601 201,601 201,602 202,600 202,601 203,602 203,604 204,601 205,602 205,603 205,604 206,601 207,601 207,602 207,603 208,602 209,603 210,601 210,602 210,605 211,602 212,602 212,603 213,602 213,603 214,603 214,607 215,605 216,603 216,604 216,605 217,603 217,604 218,603 218,604 218,623 219,605 219,606 219,621 220,605 220,622 221,604 221,605 222,605 222,607 223,605 224,604 224,606 224,607 225,605 225,606 226,608 227,606 227,609 228,606 228,608 229,609 230,606 230,607 231,606 232,606 232,607 233,606 233,607 234,605 234,606 235,606 235,608 236,603 236,605 237,606 237,607 238,607 239,605 239,607 240,607 240,608 241,604 241,606 242,603 242,604 243,604 243,606 244,605 245,603 245,604 246,602 246,603 246,622 247,603 247,604 247,605 248,602 248,604 248,627 249,604 249,605 250,601 250,603 251,603 251,605 252,603 252,606 253,603 253,604 254,603 255,603 255,604 256,602 256,603 256,605 256,606 257,606 258,606 258,607 258,609 259,607 259,609 259,612 260,609 260,611 261,610 261,613 262,609 262,611 262,612 263,612 264,609 264,610 264,613 265,609 266,608 266,610 267,607 267,608 268,607 268,608 269,607 269,609 270,606 270,607 270,610 271,605 271,607 272,607 272,608 273,606 273,607 274,606 275,592 275,605 275,606 276,593 276,595 276,605 276,606 277,594 277,595 277,605 277,606 277,607 278,595 278,597 278,606 278,607 278,608 279,593 279,594 279,608 279,610 280,592 280,609 280,610 281,610 281,611 282,610 282,611 283,606 283,607 284,595 284,608 284,610 285,592 285,593 285,606 285,608 286,590 286,591 286,596 286,605 286,606 287,590 287,592 287,594 287,596 287,597 287,603 287,604 287,606 288,588 288,589 288,598 288,602 288,604 289,588 289,589 289,591 289,594 289,595 290,593 290,594 290,595 291,590 291,591 291,592 291,593 292,589 292,590 292,593 292,594 293,589 293,591 293,594 294,591 294,593 294,595 295,592 295,593 296,590 296,591 296,592 296,593 297,590 297,592 297,593 298,590 298,591 298,592 298,593 298,594 299,590 299,591 299,592 300,589 300,590 300,593 301,590 301,591 301,594 302,585 302,588 302,589 302,590 302,591 303,588 303,589 303,591 303,592 304,586 304,587 304,589 304,591 305,584 305,585 305,586 305,589 305,591 306,585 306,586 306,588 307,582 307,585 307,586 307,587 307,589 308,581 308,583 308,589 309,581 309,583 309,584 310,580 310,582 310,592 311,578 311,579 311,580 312,579 312,580 313,575 313,576 313,577 313,578 313,579 314,570 314,572 314,573 314,574 314,575 315,573 315,575 315,576 315,577 315,578 316,575 316,578 316,579 316,580 316,583 316,584 317,581 317,583 317,584 317,585 317,587 318,586 318,587 318,588 319,584 319,586 320,584 321,583 321,586 322,582 322,583 323,582 323,583 324,579 324,581 324,582 325,580 325,581 326,579 326,580 327,581 328,577 328,579 328,596 329,581 330,579 330,581 330,582 331,581 332,579 332,580 333,579 333,580 334,580 334,581 335,579 336,579 336,583 337,579 337,581 338,579 339,580 340,580 341,578 341,579 341,581 342,577 342,580 343,578 343,580 343,581 344,579 344,580 344,581 345,579 345,580 346,580 346,581 346,583 347,582 347,583 347,585 348,583 348,584 348,585 349,584 350,582 350,584 350,587 351,584 351,586 351,587 352,583 352,586 353,583 353,584 354,583 354,584 355,582 355,583 356,583 356,584 357,581 357,583 358,579 358,583 359,582 359,583 360,580 360,581 361,581 361,582 362,580 362,582 362,583 363,578 363,579 363,580 363,581 364,576 364,578 365,575 365,576 365,578 366,574 366,576 367,574 368,575 368,576 369,574 369,576 370,576 370,577 371,575 371,576 371,577 372,576 372,578 373,576 373,577 373,588 373,589 374,579 374,586 374,587 375,577 375,582 375,587 375,589 376,578 376,579 376,581 376,585 376,586 376,587 377,580 377,586 378,586 378,587 379,586 379,587 380,582 380,583 380,586 380,590 381,583 381,587 381,589 381,605 382,582 382,584 382,587 382,588 383,581 383,583 383,586 384,581 384,582 384,587 385,580 385,583 385,588 385,590 386,580 386,583 386,587 386,590 387,580 387,584 387,587 388,581 388,583 388,584 388,587 388,588 389,581 389,583 389,585 389,586 390,582 390,584 390,586 390,587 391,581 391,582 391,587 391,590 392,581 392,584 392,588 393,582 393,584 393,585 393,587 393,588 393,589 394,584 394,585 395,585 395,587 396,585 396,587 396,588 397,587 397,589 397,590 397,591 397,593 398,592 398,594 398,595 398,596 399,588 399,595 399,596 399,597 399,598 400,586 400,587 400,588 401,584 401,587 401,610 402,586 402,587 402,588 403,585 403,611 404,585 404,586 404,612 405,585 405,587 405,610 406,585 406,586 406,587 407,587 407,588 408,587 408,589 408,590 409,588 409,590 410,590 410,592 411,589 411,590 411,591 412,590 412,591 412,592 413,590 413,591 414,592 414,593 415,593 416,588 416,589 416,593 417,590 417,592 418,589 418,591 419,588 419,589 420,588 420,589 420,592 421,587 422,587 422,588 422,589 423,585 423,587 423,588 424,587 425,586 425,587 425,588 426,587 427,586 427,588 428,587 428,589 429,587 429,588 430,586 430,588 431,586 431,588 432,587 432,588 433,587 434,586 434,588 435,585 435,587 436,585 436,586 436,587 437,583 437,584 437,585 437,586 438,581 438,582 438,584 439,580 439,581 440,581 441,580 441,581 442,579 442,580 443,579 444,579 444,582 445,578 445,580 446,579 446,580 446,581 447,578 447,580 448,577 448,578 448,579 448,580 449,574 449,575 449,576 449,577 450,572 450,573 450,575 451,574 451,575 452,572 453,573 454,571 454,573 455,571 455,572 456,572 456,573 456,574 457,572 457,573 458,573 458,574 459,571 459,573 459,575 460,572 460,573 460,575 460,579 461,575 461,576 462,575 462,576 462,578 463,575 464,576 464,577 465,575 465,576 465,578 466,574 466,576 467,574 467,576 468,575 468,576 469,578 470,575 470,576 470,577 471,573 471,578 472,575 472,577 472,578 473,576 473,577 474,574 474,577 475,575 475,576 476,574 476,575 477,574 477,575 477,576 478,573 478,574 479,572 479,573 480,574 481,572 481,573 482,573 483,572 483,573 484,572 484,573 485,572 486,574 487,572 487,573 488,573 488,574 489,573 490,574 491,575 492,572 492,573 492,574 493,573 493,574 494,572 494,573 495,570 495,571 495,572 495,573 496,565 496,568 496,570 497,566 497,568 498,567 499,566 500,566 500,567 501,567 502,566 502,568 503,566 503,567 504,566 504,567 505,567 506,566 506,568 507,567 508,564 508,567 509,567 509,569 510,566 511,566 511,567 512,567 512,569 513,567 514,567 515,568 516,566 516,567 517,567 517,568 518,566 518,567 519,566 519,567 520,567 520,568 521,563 521,564 521,565 521,567 522,562 522,563 522,565 523,559 523,560 524,560 525,560 526,559 526,560 526,561 527,560 528,561 529,559 529,560 529,561 530,560 531,560 532,559 532,560 533,559 533,562 534,559 534,560 535,559 535,560 535,561 536,560 537,559 537,560 538,559 538,560 539,560 540,560 541,559 541,561 542,559 543,560 543,562 544,558 544,560 544,561 545,557 546,555 546,556 546,558 547,554 547,558 548,557 549,555 549,557 549,558 550,555 550,556 551,556 551,557 552,556 552,557 553,555 553,557 554,556 554,557 555,556 556,556 556,557 557,557 558,556 559,557 579,547 579,548 580,546 580,547 581,545 581,546 582,544 582,545 582,548 583,545 583,546 584,543 584,544 584,545 585,542 585,543 585,544 585,545 586,538 586,539 586,540 586,541 587,536 587,537 587,538 587,539 588,535 588,536 588,537 589,535 590,533 590,535 590,536 591,532 591,535 591,537 592,530 592,531 592,533 593,531 594,530 594,531 595,530 595,531 596,530 597,529 598,529 599,529 599,530 600,529 601,529 601,530 602,527 602,530 602,531 603,529 604,528 604,529 605,527 605,528 606,529 607,528 607,530 608,529 608,530 609,528 609,529 610,528 610,529 611,529 611,530 612,529 612,530 613,529 613,530 614,530 615,529 615,530 616,528 616,530 617,529 617,530 618,529 618,530 619,529 619,530 620,529 621,530 621,534 622,530 623,530 624,530 624,531 625,529 626,528 626,529 626,530 627,529 628,528 628,530 629,529 629,530 630,528 630,529 631,528 632,527 632,529 633,528 633,529 634,526 634,529 635,528 636,527 637,527 637,528 638,526 638,527 639,527 640,526 640,527 641,527 641,528 642,528 642,531 643,528 644,527 644,528 645,527 645,528 646,527 647,528 648,528 648,529 649,527 649,529 650,527 650,528 651,528 652,527 652,529 653,527 653,529 653,538 654,525 654,528 655,526 656,527 657,527 657,528 658,526 658,528 659,527 660,525 660,526 661,525 661,526 662,526 663,526 663,527 664,525 665,525 666,524 667,523 667,524 668,523 668,524 669,521 669,522 670,522 670,523 671,523 672,521 672,523 672,524 673,523 673,525 674,522 674,524 675,525 675,527 676,524 677,525 678,524 679,525 680,525 681,524 681,525 682,525 682,526 683,524 683,526 684,525 684,526 685,524 685,526 686,525 687,524 687,526 688,525 689,524 689,525 690,521 690,524 690,526 691,525 691,526 692,524 693,523 693,524 694,524 694,525 695,522 696,522 696,524 697,521 697,523 698,518 698,520 698,528 699,521 699,522 700,519 700,521 701,521 702,519 702,521 703,518 703,519 704,517 704,519 705,517 705,519 706,517 706,518 707,517 708,516 708,518 709,517 709,519 710,503 710,515 710,517 711,501 711,503 711,515 711,516 712,502 712,515 712,516 713,500 713,503 713,514 713,515 714,502 714,503 714,514 715,503 716,504 717,502 717,503 718,501 718,503 718,504 719,501 720,501 721,500 721,501 721,502 722,501 722,502 723,502 724,502 725,501 725,503 726,504 727,502 727,503 728,502 728,504 729,504 730,504 730,505 731,503 732,501 732,504 733,504 734,505 734,506 735,505 735,506 736,506 736,507 736,508 737,507 738,506 738,507 739,506 739,507 740,506 740,507 741,505 741,506 741,508 742,505 743,505 743,506 744,505 744,506 745,505 745,507 746,504 747,502 747,503 748,504 749,501 749,502 749,504 750,501 750,503 751,500 752,501 752,502 753,500 754,501 755,501 756,501 757,500 757,502 758,501 758,510 759,500 759,501 760,500 760,501 761,500 762,499 762,500 763,499 763,500 763,501 764,499 764,500 765,497 765,499 766,497 766,499 767,495 767,498 768,497 769,496 770,497 770,498 771,496 772,495 772,497 773,497 774,496 775,496 775,497 775,498 776,496 777,494 777,497 778,497 778,498 779,497 779,498 780,498 781,498 782,497 782,498 783,497 784,498 784,500 785,497 785,498 786,497 786,498 786,499 787,499 787,500 788,499 788,500 789,500 789,501 789,502 790,499 790,500 790,502 791,503 792,503 792,506 793,501 793,503 794,502 794,504 794,505 795,503 795,505 796,503 797,502 797,503 797,504 798,503 799,502 799,503 800,501 800,502 801,499 801,500 801,501 802,500 802,501 803,498 803,499 803,500 804,498 804,500 805,500 807,521 807,522 807,524 808,522 808,524 809,523 809,524 810,522 810,523 811,524 812,522 812,523 813,523 813,524 814,523 814,524 815,523 815,524 816,518 816,523 816,525 817,521 817,522 818,521 818,523 819,520 819,521 819,522 820,521 821,520 822,518 822,519 823,519 824,518 825,514 825,516 825,517 826,514 826,516 826,517 827,516 828,515 828,516 828,517 829,496 829,515 830,513 830,515 831,515 831,516 832,512 832,513 833,512 833,513 834,512 834,513 835,512 835,514 836,511 836,513 837,513 838,514 839,514 839,516 840,514 840,516 841,513 842,515 842,516 843,516 843,517 844,516 844,518 845,516 845,517 846,517 846,518 846,519 847,518 847,520 848,518 848,520 849,519 849,520 850,519 851,519 851,520 851,521 852,521 852,523 853,521 853,522 854,522 854,523 855,521 855,523 856,521 857,521 857,523 858,522 858,523 859,523 860,520 860,521 860,522 861,523 861,524 862,522 862,523 863,522 863,523 864,522 864,523 865,521 865,522 866,520 867,520 868,519 868,520 869,518 869,520 870,521 870,522 871,519 871,520 872,519 872,520 873,518 873,519 874,517 874,518 875,516 875,518 876,517 877,515 877,516 877,518 878,514 878,515 879,515 879,516 880,514 880,515 881,513 881,514 881,515 882,513 882,515 883,512 883,513 884,512 884,513 884,514 885,512 885,514 886,512 886,513 887,512 888,514 889,513 890,512 890,513 891,511 891,512 892,510 892,512 893,512 894,511 894,513 895,510 895,512 896,510 896,512 897,511 898,510 898,511 899,509 899,510 900,511 900,512 901,510 901,511 902,512 902,513 903,513 903,514 903,515 904,514 904,515 905,516 905,517 905,520 906,516 906,517 906,519 907,517 907,518 908,518 908,519 909,518 909,519 910,517 910,520 911,519 911,520 912,521 913,521 913,522 914,522 915,521 915,522 916,521 916,523 917,521 917,522 918,520 918,521 919,520 919,521 920,520 920,521 921,520 922,520 922,521 922,523 923,521 924,520 924,521 925,520 925,521 926,519 926,521 927,520 927,522 928,520 929,521 929,522 930,519 930,522 931,520 932,519 932,520 933,519 934,517 934,518 934,520 935,517 935,518 936,516 936,517 937,515 937,517 937,518 938,516 939,516 939,518 940,516 941,516 941,518 942,515 942,517 943,514 944,515 944,516 945,514 945,515 946,514 947,514 948,512 948,514 949,513 949,514 950,511 950,512 950,514 951,512 951,513 952,512 953,511 953,512 953,513 954,510 954,511 954,512 955,509 955,511 956,509 957,508 957,509 958,507 958,508 959,507 959,509 960,506 960,507 961,506 961,507 962,504 962,507 963,506 963,508 964,506 964,507 965,507 965,509 966,507 966,508 967,508 967,509 967,514 968,506 968,508 969,507 970,506 971,506 972,503 972,505 973,505 973,506 974,505 975,504 975,505 976,504 976,505 977,505 978,505 978,506 978,508 979,507 979,508 979,509 980,508 981,509 981,510 981,511 981,512 981,513 982,514 982,515 982,516 982,518 982,519 982,521 984,481 984,482 985,481 986,481 987,482 988,481 989,482 989,483 990,480 990,481 990,482 991,482 991,483 992,481 993,480 993,482 993,483 994,483 995,483 995,484 995,485 996,485 997,484 997,486 998,484 998,485 998,486 999,486 1000,486 1000,487 1001,487 1001,488 1002,486 1002,487 1003,486 1003,487 1004,487 1005,486 1005,487 1006,488 1007,485 1007,487 1008,482 1008,488 1009,487 1010,485 1010,486 1011,486 1011,487 1012,486 1012,487 1013,485 1013,486 1014,484 1014,487 1015,487 1016,486 1016,487 1017,487 1017,488 1018,488 1019,488 1019,489 1019,490 1020,490 1020,491 1021,489 1021,491 1021,492 1022,491 1023,491 1023,492 1024,491 1024,492 1025,492 1025,493 1026,491 1026,493 1027,493 1027,494 1028,492 1028,494 1029,492 1029,494 1030,491 1030,492 1031,491 1031,492 1032,491 1033,489 1033,490 1033,492 1033,493 1034,490 1035,487 1035,489 1035,490 1036,488 1036,489 1037,486 1037,488 1038,487 1038,488 1039,487 1040,487 1040,488 1041,484 1041,487 1042,488 1042,489 1043,487 1043,488 1044,487 1044,489 1045,488 1045,489 1046,490 1047,489 1047,490 1048,490 1048,492 1049,490 1049,491 1050,490 1050,492 1051,490 1052,487 1052,490 1053,490 1053,491 1054,489 1055,489 1055,490 1056,490 1056,491 1057,490 1057,491 1058,488 1058,489 1058,490 1059,489 1060,488 1060,490 1060,491 1061,489 1061,490 1062,488 1062,489 1062,490 1063,489 1063,490 1064,488 1064,489 1065,488 1065,489 1066,487 1066,488 1067,487 1067,489 1068,489 1069,488 1070,489 1070,490 1071,487 1071,488 1072,487 1073,487 1074,486 1074,487 1075,486 1075,487 1075,488 1076,488 1077,478 1077,486 1077,487 1078,485 1078,486 1079,487 1079,489 1079,495 1080,487 1080,488 1081,487 1081,488 1082,486 1082,488 1083,488 1084,487 1085,487 1085,488 1085,489 1087,512 1088,511 1088,512 1089,511 1089,512 1090,510 1090,511 1091,511 1091,512 1092,511 1093,511 1093,513 1094,512 1094,519 1095,510 1095,511 1096,510 1096,511 1097,510 1097,511 1098,510 1099,510 1099,511 1100,510 1101,511 1102,509 1102,510 1103,510 1104,509 1105,510 1105,511 1106,509 1106,510 1107,509 1107,510 1108,509 1108,510 1109,509 1109,511 1109,512 1110,511 1110,513 1111,512 1111,514 1112,513 1112,515 1113,513 1113,515 1114,514 1114,515 1115,514 1115,515 1115,516 1116,513 1116,515 1117,514 1117,515 1118,515 1118,516 1119,514 1119,515 1120,515 1120,516 1121,515 1121,516 1122,515 1122,516 1123,514 1123,515 1123,517 1124,516 1124,517 1125,516 1126,518 1126,519 1126,528 1127,516 1127,517 1128,518 1129,518 1129,519 1130,517 1130,518 1131,517 1132,516 1132,518 1133,514 1133,515 1133,517 1134,516 1135,517 1135,518 1136,515 1136,517 1136,518 1137,516 1137,517 1138,516 1139,514 1139,515 1139,517 1140,513 1140,515 1141,512 1141,513 1141,514 1142,512 1143,509 1143,510 1143,511 1144,507 1144,509 1144,510 1145,507 1145,509 1145,510 1146,510 1147,508 1147,510 1148,508 1148,509 1149,507 1149,509 1150,508 1150,509 1151,506 1152,508 1152,509 1152,510 1153,507 1154,508 1154,515 1155,506 1155,508 1155,514 1156,508 1156,514 1157,507 1157,508 1157,509 1158,506 1158,508 1159,507 1159,508 1160,508 1161,506 1161,509 1162,508 1162,509 1163,507 1164,508 1164,509 1165,508 1165,509 1166,507 1167,508 1168,507 1168,508 1169,506 1169,509 1170,507 1170,508 1171,506 1171,507 1171,508 1172,507 1172,509 1173,507 1173,508 1174,506 1174,507 1175,506 1175,507 1176,507 1177,506 1177,507 1178,505 1178,506 1179,504 1179,505 1179,506 1180,505 1180,507 1181,506 1181,508 1182,506 1182,507 1183,506 1183,507 1184,506 1184,507 1185,505 1185,507 1186,505 1186,507 1187,505 1187,506 1188,505 1188,506 1189,506 1190,501 1190,505 1191,505 1192,503 1192,505 1192,506 1192,516 1193,505 1194,504 1194,505 1195,505 1195,506 1196,505 1196,506 1197,505 1197,506 1198,504 1198,505 1199,505 1200,504 1200,505 1200,509 1201,505 1201,506 1202,504 1202,506 1203,505 1203,506 1204,504 1205,504 1206,504 1206,505 1206,506 1207,503 1207,504 1208,499 1208,504 1209,504 1210,502 1210,504 1211,503 1211,504 1212,505 1213,503 1213,504 1213,505 1214,505 1214,506 1215,505 1215,506 1216,506 1216,507 1217,505 1218,506 1219,457 1219,459 1220,457 1221,456 1222,457 1222,458 1222,459 1223,457 1224,456 1224,458 1225,456 1225,458 1226,455 1226,457 1226,458 1227,456 1228,455 1228,456 1228,457 1229,455 1229,456 1230,456 1230,457 1231,455 1231,456 1232,453 1232,455 1233,453 1234,452 1234,454 1235,452 1235,454 1236,454 1237,454 1237,455 1237,456 1238,453 1238,454 1239,455 1239,456 1240,454 1240,456 1241,454 1241,456 1242,455 1243,455 1243,456 1244,455 1244,456 1245,455 1245,456 1246,454 1246,455"/>
<polyline class="pl" marker-start="url(#ms)" marker-mid="url(#ms)" marker-end="url(#ms)" points="89,692 90,693 90,694 90,695 91,695 92,693 92,695 93,692 93,693 93,694 94,694 94,695 95,693 96,694 96,695 97,694 98,694 99,674 100,675 100,676 101,675 101,676 102,675 102,676 103,676 103,677 104,677 104,678 105,679 106,678 106,680 107,679 108,690 109,698 110,698 110,701 111,697 112,697 113,697 113,698 114,695 114,697 114,699 115,695 115,696 116,696 116,700 117,697 117,698 117,699 118,698 118,699 119,700 120,696 120,698 121,698 121,699 122,699 123,696 123,698 124,697 124,698 124,699 125,696 125,698 125,700 126,695 126,696 126,697 126,699 127,691 127,693 127,694 128,692 128,694 129,693 130,689 130,690 130,691 131,690 132,691 132,692 133,692 134,690 134,691 134,692 135,692 135,695 136,691 136,693 137,689 137,692 138,692 139,690 139,691 139,692 140,690 140,691 141,691 142,691 142,692 143,691 143,694 144,692 144,693 145,674 145,675 145,677 145,692 145,694 145,703 146,676 146,677 146,678 146,684 146,691 147,677 147,678 147,679 147,688 147,691 147,692 148,689 148,693 148,695 149,691 149,692 150,682 150,691 150,693 151,691 151,693 152,691 152,692 152,693 153,693 154,694 155,693 155,695 156,692 156,693 157,691 157,692 158,692 159,692 159,693 160,691 160,694 161,691 161,693 161,694 162,691 162,694 163,693 163,694 164,693 164,694 164,695 165,691 165,696 166,692 167,692 168,690 168,693 169,689 169,692 170,691 170,692 171,690 171,691 171,692 172,691 172,693 173,689 173,691 173,692 174,690 174,692 175,690 175,692 176,690 176,692 177,691 178,691 178,692 179,690 179,691 180,673 180,675 180,691 180,692 181,674 181,675 181,676 181,692 182,675 182,691 182,693 183,676 183,677 183,692 183,694 184,677 184,692 184,693 185,689 185,691 185,694 186,692 187,693 188,692 188,693 189,691 189,692 189,693 190,692 190,694 191,691 191,692 192,693 193,692 193,693 194,692 194,693 195,692 195,693 196,693 196,694 197,693 197,695 197,696 198,694 199,693 199,698 200,693 200,694 201,693 201,694 201,695 202,693 203,693 203,698 204,693 205,691 205,693 206,694 207,693 208,694 209,691 209,693 210,692 210,694 211,691 211,694 212,691 212,693 213,692 213,694 214,692 214,693 215,692 215,693 216,690 216,691 216,692 217,673 217,691 217,692 218,674 218,675 218,689 218,690 219,674 219,675 219,676 219,689 219,692 220,675 220,676 220,692 220,694 221,676 221,677 221,691 222,691 222,693 223,689 223,692 224,689 224,690 225,690 225,691 226,689 226,690 227,689 227,690 227,691 228,688 229,687 229,689 230,688 230,689 230,690 231,687 231,688 232,686 232,687 233,684 233,686 233,687 234,687 235,685 236,688 237,687 237,688 238,688 238,689 239,687 239,688 240,688 241,687 241,689 242,688 242,689 242,690 243,690 244,689 245,671 245,688 245,690 246,687 246,690 247,670 247,688 247,689 248,689 248,691 249,690 250,688 250,691 251,688 252,686 252,688 252,691 253,686 253,690 253,691 254,685 254,688 254,690 255,685 255,687 256,684 256,686 256,687 257,682 257,686 257,687 258,683 258,684 259,681 259,684 260,681 260,682 260,683 261,680 261,682 262,682 262,683 263,681 263,683 264,679 265,680 265,682 266,682 267,681 267,682 268,681 268,682 268,685 269,682 269,683 270,683 270,685 271,684 271,686 271,687 272,683 272,684 273,686 274,686 274,687 274,688 275,687 275,688 275,693 276,687 279,666 279,668 279,669 279,670 279,671 279,672 279,673 280,664 280,673 280,674 280,675 280,676 280,677 280,678 280,680 284,669 284,672 285,669 285,670 285,671 286,672 286,673 286,674 287,674 287,675 287,676 287,677 287,687 287,688 288,676 288,678 288,686 288,690 288,694 289,686 289,687 289,689 290,686 291,687 291,688 291,689 292,687 292,688 293,688 294,686 294,687 295,687 295,688 296,686 296,687 296,688 296,692 297,687 298,685 298,687 299,687 300,684 300,686 301,684 301,687 302,686 302,687 303,686 303,688 303,693 304,686 304,688 305,686 305,688 306,683 306,686 306,687 307,686 308,686 308,688 309,687 310,686 310,690 310,694 311,686 311,688 311,689 312,688 312,690 313,687 313,688 314,689 314,690 314,691 315,690 315,692 316,693 317,689 317,691 317,692 317,693 318,690 319,691 319,692 319,693 320,692 321,690 321,692 322,693 322,694 323,691 323,692 323,693 324,692 324,693 325,694 326,691 326,692 327,692 327,694 328,675 328,678 328,691 328,692 328,693 329,693 329,695 330,688 330,692 330,694 331,692 331,693 332,691 332,692 333,692 333,693 334,691 334,695 335,692 335,694 336,692 336,694 337,691 337,693 338,691 338,692 338,695 339,691 339,694 340,692 340,694 341,692 341,693 342,691 342,692 343,692 344,692 344,693 344,694 345,691 346,692 346,693 347,690 347,694 348,692 348,693 349,691 349,693 350,691 350,692 351,690 351,691 351,693 352,691 353,691 353,693 354,692 355,689 355,691 356,692 357,689 357,693 358,690 358,691 359,691 359,692 360,690 361,690 361,691 362,688 362,691 363,689 363,691 364,690 364,691 365,689 365,691 366,690 366,692 367,689 367,691 368,689 368,691 368,692 369,689 369,691 370,689 370,691 371,691 372,692 372,693 373,681 373,690 373,692 373,693 374,680 374,692 374,693 375,680 375,681 375,690 375,692 376,681 376,682 376,692 376,694 377,680 377,691 377,692 378,682 378,683 378,692 378,695 379,682 380,681 380,683 380,684 380,690 381,664 381,678 381,683 381,692 383,686 383,692 384,694 385,692 386,692 387,690 388,682 389,690 390,688 392,691 393,692 394,685 395,694 396,670 396,673 396,674 396,680 396,692 397,672 398,673 398,674 399,674 399,675 400,674 400,676 400,685 402,686 403,658 403,685 404,663 404,685 405,684 405,686 406,686 406,687 407,684 407,685 408,686 408,687 409,686 409,687 410,682 410,684 410,685 411,683 411,687 412,687 413,684 413,687 414,687 414,689 415,686 415,687 415,688 416,687 416,688 417,688 417,689 418,687 418,688 419,687 419,688 420,688 420,690 421,688 422,689 422,690 423,686 423,687 424,687 424,689 425,685 425,688 425,689 426,685 426,686 427,685 427,686 428,684 428,685 429,686 430,686 431,686 431,687 432,686 433,687 433,688 434,687 435,686 435,687 436,689 437,686 437,687 438,687 438,688 438,689 439,687 439,688 440,688 440,690 441,689 441,690 442,690 442,691 442,692 443,690 443,691 444,689 444,691 445,689 445,693 446,689 446,691 446,694 447,690 447,693 448,689 448,690 449,690 450,690 451,687 451,690 451,691 452,689 452,690 453,689 453,690 454,688 454,690 454,691 455,689 455,692 456,689 456,690 457,690 457,691 458,691 458,692 459,689 459,692 460,691 460,692 461,690 462,691 462,692 463,690 463,692 463,693 464,691 465,690 465,692 466,691 466,692 467,692 468,692 468,693 469,694 469,695 470,692 470,693 471,694 472,692 472,694 473,691 473,694 474,692 474,694 475,693 475,694 476,694 477,692 477,694 478,694 478,696 479,690 479,695 480,693 481,691 481,693 481,694 482,693 482,696 483,692 483,694 484,692 484,693 485,693 485,695 486,694 486,695 487,694 487,695 488,693 488,694 489,692 489,693 489,694 490,693 490,694 491,694 492,695 492,696 493,694 493,695 494,693 494,694 495,693 496,691 496,692 496,693 497,690 497,691 498,687 498,688 499,685 499,687 499,688 500,685 500,686 500,687 501,685 501,687 502,685 502,687 503,684 503,685 504,684 504,687 505,683 505,684 506,683 506,684 507,683 507,684 507,686 508,685 508,686 508,687 508,689 508,691 508,692 509,688 509,689 509,690 510,690 510,691 510,692 511,689 511,690 512,690 512,692 513,690 513,692 514,691 514,692 515,691 515,693 516,690 516,692 517,689 517,690 518,690 518,691 518,692 519,692 520,691 520,692 521,691 521,692 522,692 522,694 523,690 523,691 523,692 524,689 524,690 525,692 525,693 526,692 527,690 527,692 528,690 528,691 529,691 529,693 530,693 531,690 531,693 532,690 533,691 533,692 534,692 535,690 535,692 536,690 536,692 537,692 538,690 538,692 539,690 539,691 539,692 540,690 541,690 542,688 542,689 543,690 543,691 544,689 545,690 546,689 546,690 546,691 547,688 547,689 548,689 549,687 549,690 550,689 550,691 551,690 551,691 552,689 552,690 552,691 553,687 553,691 554,689 554,691 554,692 555,688 555,689 556,687 556,688 557,688 558,687 558,690 559,687 559,688 579,691 580,691 580,692 581,690 581,691 582,691 582,692 583,691 584,690 584,692 585,689 585,690 586,691 587,692 588,691 588,692 589,690 589,691 590,691 591,691 592,691 592,692 593,691 594,690 594,692 595,691 596,691 596,692 597,692 598,692 598,693 599,694 600,694 601,694 601,695 602,693 602,695 603,693 603,694 604,694 605,694 606,693 606,694 607,695 608,694 609,694 609,695 610,694 610,695 611,694 611,695 612,694 613,694 614,693 614,694 615,694 616,693 617,692 617,693 618,693 619,693 620,692 620,693 621,692 622,691 622,692 623,691 623,692 624,691 625,690 625,692 626,691 627,691 628,691 628,692 629,692 630,692 631,691 631,692 632,691 632,692 633,692 634,692 635,693 636,692 636,693 636,694 637,692 638,693 639,692 639,693 640,692 641,693 641,694 642,693 643,692 643,693 644,693 645,694 646,694 647,693 647,694 648,694 648,695 649,693 649,694 650,694 650,695 651,694 652,694 653,693 653,694 654,693 655,693 655,694 656,692 656,694 657,692 658,692 658,694 659,692 659,693 660,692 660,693 661,692 662,691 662,692 662,694 663,692 663,693 664,692 664,693 665,692 665,693 666,692 666,693 667,693 668,692 668,693 668,694 669,693 669,694 670,693 670,694 671,693 671,695 672,694 673,693 673,694 674,692 674,693 674,694 675,691 675,692 676,693 676,694 677,691 677,692 678,692 678,693 679,692 680,692 680,693 681,691 682,690 682,691 683,691 683,692 684,690 684,691 685,690 685,691 686,690 686,691 687,691 687,692 688,691 688,692 689,692 690,691 691,691 691,692 692,691 693,691 694,690 694,691 695,690 695,691 696,690 696,691 697,689 697,691 698,691 699,691 699,692 700,691 701,691 702,691 703,691 704,691 705,690 705,691 706,691 706,692 707,691 708,692 709,691 709,692 710,692 711,691 711,692 712,691 712,692 713,691 713,692 714,690 714,691 715,691 715,692 716,691 716,692 717,691 717,692 718,691 718,692 719,692 720,691 720,693 721,692 721,693 722,692 723,691 723,692 724,692 724,693 725,692 725,693 726,693 727,692 727,693 728,692 728,693 729,694 730,693 730,694 731,692 731,693 732,692 732,693 733,693 734,692 734,693 735,692 735,693 735,694 736,692 737,692 737,693 738,692 739,692 739,693 740,693 741,691 741,693 742,692 742,693 743,692 744,692 745,691 745,692 746,692 747,691 747,693 748,691 749,690 750,691 750,692 751,691 752,691 752,693 753,691 754,691 755,690 756,689 756,691 757,691 758,690 758,691 758,692 759,690 759,692 760,691 760,692 761,691 761,692 762,691 762,692 763,691 763,692 764,692 764,693 765,691 765,692 766,692 766,693 767,693 768,692 768,693 769,691 770,692 771,690 771,691 772,690 772,691 773,691 773,692 774,691 774,692 775,691 776,690 776,691 777,691 778,690 778,691 779,690 779,691 780,689 780,690 781,689 782,689 783,687 783,688 784,686 784,687 785,683 785,685 785,686 786,683 786,684 787,681 787,682 787,683 788,680 788,681 789,677 789,678 789,679 790,675 790,676 790,677 791,675 791,676 792,675 793,674 793,675 793,676 794,674 795,674 796,672 797,672 798,671 798,672 799,671 799,673 800,671 800,673 801,673 801,674 802,672 802,673 803,673 804,673 805,649 805,672 805,673 805,674 806,650 807,649 807,650 808,650 809,649 810,649 810,650 811,649 812,649 812,650 813,649 813,650 814,648 814,649 814,651 815,650 816,649 816,650 817,649 818,650 819,649 819,650 820,649 820,650 821,650 822,650 823,649 823,650 824,650 825,651 826,651 827,650 828,651 828,672 829,650 829,651 830,649 830,650 831,649 831,651 831,672 832,650 833,650 834,650 835,650 835,651 836,651 837,650 837,651 838,651 838,652 839,650 839,651 839,652 840,651 840,652 841,650 841,652 842,651 842,652 843,651 844,650 845,650 846,650 846,651 847,650 848,651 849,651 850,650 850,651 851,650 852,650 852,651 853,650 854,650 855,650 855,651 856,650 857,649 857,650 858,650 859,650 860,650 861,650 861,651 862,651 863,650 863,651 864,652 864,653 865,652 866,652 866,653 867,652 867,654 868,652 869,652 869,653 870,652 870,653 871,652 871,653 872,654 873,653 873,654 874,654 875,655 876,654 877,654 877,655 878,655 878,656 879,656 880,656 880,657 881,657 882,656 882,657 883,657 884,657 884,658 885,657 885,658 886,657 886,658 887,657 887,658 888,657 888,659 889,657 889,658 890,659 891,657 891,659 892,657 892,658 893,657 893,658 894,657 895,657 895,658 896,657 896,658 897,656 897,658 898,657 899,657 899,658 900,656 900,657 901,656 901,657 902,656 902,657 903,654 903,655 903,656 904,653 904,654 905,651 905,652 905,653 906,650 906,651 907,648 907,649 907,650 908,648 908,649 909,646 909,647 909,648 910,649 911,648 912,647 912,648 913,647 913,648 914,648 915,646 915,647 916,647 917,648 917,649 918,649 919,648 919,649 920,647 920,649 921,647 921,649 922,648 922,649 923,648 924,648 924,649 925,649 925,650 926,648 926,649 927,650 928,649 928,650 929,643 929,649 930,650 931,650 931,651 932,650 933,650 933,652 934,650 934,651 935,651 935,652 936,650 936,651 937,651 937,652 938,652 939,651 939,652 940,651 940,652 941,652 942,653 943,653 944,652 944,653 945,654 946,653 946,654 947,654 947,655 948,653 948,654 949,654 949,655 949,656 950,656 951,657 952,657 952,658 953,656 953,657 954,657 955,657 955,658 956,657 957,657 957,658 958,657 958,658 959,658 960,657 960,658 961,658 961,659 962,658 963,657 963,658 964,657 964,659 965,658 965,659 966,658 967,657 967,658 967,659 968,658 969,658 969,659 970,658 971,657 972,658 973,658 974,657 974,658 974,659 975,657 976,657 976,658 977,657 977,658 978,647 978,657 979,643 979,655 979,656 980,640 980,662 981,628 981,630 981,662 981,663 982,638 982,662 982,663 983,634 983,664 984,663 985,662 985,663 985,664 986,663 986,664 987,664 988,662 988,663 989,663 989,664 989,665 990,663 990,665 991,664 991,665 992,664 992,665 993,664 993,665 994,664 994,666 995,665 996,666 997,665 997,667 998,665 998,666 999,666 1000,665 1000,666 1001,665 1001,666 1002,665 1003,666 1003,667 1004,666 1004,667 1004,668 1005,668 1006,667 1006,668 1006,669 1007,668 1007,669 1008,669 1008,670 1009,671 1010,672 1010,673 1011,672 1011,673 1012,671 1012,672 1013,671 1013,672 1014,673 1015,672 1016,672 1016,673 1017,672 1018,671 1018,672 1019,671 1020,669 1020,670 1021,668 1021,670 1022,668 1022,669 1023,668 1023,669 1024,668 1024,669 1025,667 1026,666 1027,665 1027,666 1028,664 1028,665 1029,664 1029,665 1030,664 1030,665 1031,664 1032,663 1032,664 1033,663 1034,663 1034,664 1035,663 1035,664 1035,665 1035,666 1036,665 1036,666 1036,667 1037,668 1037,669 1038,669 1038,670 1038,671 1039,671 1039,672 1040,671 1041,670 1042,670 1042,671 1043,671 1043,672 1044,672 1045,671 1046,671 1046,672 1047,671 1048,660 1048,662 1048,672 1049,672 1050,671 1051,670 1051,671 1052,671 1052,672 1053,671 1053,672 1054,671 1054,673 1055,671 1055,672 1056,672 1057,671 1057,672 1058,673 1059,672 1059,673 1060,672 1061,672 1061,673 1062,672 1063,671 1063,673 1064,673 1064,674 1065,673 1065,674 1066,673 1067,673 1067,674 1068,674 1069,674 1070,674 1071,674 1072,673 1072,674 1073,673 1073,674 1074,673 1074,674 1075,674 1076,674 1077,673 1078,674 1079,673 1079,674 1080,673 1080,674 1081,673 1081,674 1082,674 1083,673 1083,674 1084,673 1084,674 1085,674 1086,648 1086,673 1087,647 1087,648 1088,648 1089,647 1090,647 1091,646 1091,647 1092,645 1092,647 1093,646 1093,647 1094,646 1094,648 1095,646 1095,647 1096,646 1096,648 1097,646 1097,647 1098,646 1099,645 1099,646 1100,645 1100,646 1100,648 1101,645 1101,647 1102,646 1103,646 1104,645 1105,646 1106,646 1107,644 1107,645 1108,644 1108,645 1109,644 1109,645 1110,644 1110,645 1111,645 1112,645 1113,644 1113,646 1114,645 1115,644 1115,645 1116,646 1117,646 1118,645 1118,646 1119,646 1119,647 1120,646 1121,645 1121,646 1122,645 1122,646 1123,644 1123,645 1124,644 1124,645 1125,643 1125,644 1126,644 1127,642 1127,643 1128,642 1128,643 1129,642 1130,641 1130,642 1131,642 1131,643 1132,641 1133,642 1133,643 1134,642 1134,643 1135,643 1136,642 1136,643 1136,644 1137,643 1137,644 1138,643 1138,644 1139,644 1139,645 1140,644 1140,645 1141,644 1142,644 1142,645 1143,645 1143,646 1144,644 1144,645 1145,644 1145,645 1146,643 1146,645 1147,643 1147,644 1148,644 1149,645 1150,645 1151,644 1151,645 1152,645 1153,643 1153,644 1154,644 1154,645 1155,643 1156,643 1156,644 1157,643 1157,644 1158,643 1159,644 1159,645 1160,644 1160,646 1161,645 1162,645 1163,644 1164,644 1165,643 1165,644 1166,644 1167,644 1168,644 1168,645 1169,643 1169,644 1170,643 1170,644 1171,644 1172,643 1172,644 1172,645 1173,643 1173,644 1174,643 1175,643 1176,643 1176,644 1177,644 1178,643 1179,643 1179,644 1180,642 1180,644 1181,643 1182,643 1182,644 1183,642 1183,643 1184,643 1184,644 1185,642 1185,643 1186,642 1186,643 1187,642 1187,643 1187,644 1188,643 1189,641 1189,642 1190,641 1191,641 1191,642 1192,641 1192,642 1193,640 1194,640 1194,641 1195,640 1196,640 1197,640 1197,641 1198,639 1198,641 1199,640 1199,641 1200,640 1200,642 1201,640 1201,641 1202,641 1203,641 1203,643 1204,641 1205,642 1206,642 1206,643 1207,643 1208,643 1208,644 1209,642 1209,643 1209,644 1210,644 1211,644 1211,645 1212,646 1213,645 1214,645 1214,646 1215,646 1216,645 1216,646 1217,645 1217,646 1218,644 1218,645 1219,644 1219,645 1219,691 1219,692 1220,691 1220,692 1221,691 1222,692 1223,692 1223,693 1224,691 1224,692 1225,692 1226,692 1227,692 1228,691 1229,691 1230,692 1231,691 1231,692 1232,691 1233,690 1233,691 1233,692 1234,691 1235,690 1235,691 1236,691 1236,692 1237,690 1237,691 1238,691 1239,692 1240,691 1240,692 1241,691 1241,692 1242,691 1243,690 1243,691 1243,692 1244,691 1245,691 1246,691 1246,692"/>
<polyline class="pl" marker-start="url(#mp)" points="1198,70 1198,70"/>
<polyline class="pl" marker-start="url(#mx)" points="1198,88 1198,88"/>
<polyline class="pl" marker-start="url(#ma)" points="1198,106 1198,106"/>
<polyline class="pl" marker-start="url(#ms)" points="1198,124 1198,124"/>
<g fill="#000">
<rect x="89" y="54" width="1158" height="1"/><rect x="89" y="702" width="1158" height="1"/><rect x="89" y="54" width="1" height="649"/><rect x="1246" y="54" width="1" height="649"/>
</g>
<g shape-rendering="auto" text-rendering="geometricPrecision" style="filter:grayscale(1)" stroke="#000" stroke-width="0.3">
<g transform="translate(79 706.8) scale(0.98 1.03)"><text text-anchor="end">0</text></g><g transform="translate(79 641.8) scale(0.98 1.03)"><text x="-25.95">0</text><text x="-15.57">.</text><path transform="translate(-10.38 0) scale(0.009116 -0.009116)" d="M763 0H583V1147Q518 1085 412 1023T223 930V1104Q374 1175 487 1276T647 1472H763Z"/></g><g transform="translate(79 576.8) scale(0.98 1.03)"><text text-anchor="end">0.2</text></g><g transform="translate(79 512.8) scale(0.98 1.03)"><text text-anchor="end">0.3</text></g><g transform="translate(79 447.8) scale(0.98 1.03)"><text text-anchor="end">0.4</text></g><g transform="translate(79 382.8) scale(0.98 1.03)"><text text-anchor="end">0.5</text></g><g transform="translate(79 317.8) scale(0.98 1.03)"><text text-anchor="end">0.6</text></g><g transform="translate(79 252.8) scale(0.98 1.03)"><text text-anchor="end">0.7</text></g><g transform="translate(79 188.8) scale(0.98 1.03)"><text text-anchor="end">0.8</text></g><g transform="translate(79 123.8) scale(0.98 1.03)"><text text-anchor="end">0.9</text></g><g transform="translate(79 58.8) scale(0.98 1.03)"><path transform="translate(-10.38 0) scale(0.009116 -0.009116)" d="M763 0H583V1147Q518 1085 412 1023T223 930V1104Q374 1175 487 1276T647 1472H763Z"/></g><g transform="translate(89.5 724.8) scale(0.98 1.03)"><text x="-20.77">2</text><text x="-10.38">0</text><path transform="translate(0.00 0) scale(0.009116 -0.009116)" d="M763 0H583V1147Q518 1085 412 1023T223 930V1104Q374 1175 487 1276T647 1472H763Z"/><text x="10.38">2</text></g><g transform="translate(282.5 724.8) scale(0.98 1.03)"><text x="-20.77">2</text><text x="-10.38">0</text><path transform="translate(0.00 0) scale(0.009116 -0.009116)" d="M763 0H583V1147Q518 1085 412 1023T223 930V1104Q374 1175 487 1276T647 1472H763Z"/><text x="10.38">4</text></g><g transform="translate(475.5 724.8) scale(0.98 1.03)"><text x="-20.77">2</text><text x="-10.38">0</text><path transform="translate(0.00 0) scale(0.009116 -0.009116)" d="M763 0H583V1147Q518 1085 412 1023T223 930V1104Q374 1175 487 1276T647 1472H763Z"/><text x="10.38">6</text></g><g transform="translate(668.5 724.8) scale(0.98 1.03)"><text x="-20.77">2</text><text x="-10.38">0</text><path transform="translate(0.00 0) scale(0.009116 -0.009116)" d="M763 0H583V1147Q518 1085 412 1023T223 930V1104Q374 1175 487 1276T647 1472H763Z"/><text x="10.38">8</text></g><g transform="translate(860.5 724.8) scale(0.98 1.03)"><text text-anchor="middle">2020</text></g><g transform="translate(1053.5 724.8) scale(0.98 1.03)"><text text-anchor="middle">2022</text></g><g transform="translate(1246.5 724.8) scale(0.98 1.03)"><text text-anchor="middle">2024</text></g>
<text transform="translate(668 31.8) scale(0.993 1.03)" text-anchor="middle">BGP v6 Prefix Profile</text>
<text transform="translate(668 751.8) scale(0.965 1.03)" text-anchor="middle">Date</text>
<text transform="translate(20 377.5) rotate(-90) scale(0.988 1.03)" text-anchor="middle">Proportion of all Prefixes</text>
<text transform="translate(1163 74.8) scale(0.98 1.03)" text-anchor="end">Roots</text><text transform="translate(1163 92.8) scale(0.98 1.03)" text-anchor="end">Holes</text><text transform="translate(1163 110.8) scale(0.98 1.03)" text-anchor="end">Paths</text><text transform="translate(1163 128.8) scale(0.978 1.03)" text-anchor="end">MoreSpec</text>
</g>
</svg>
</body></html>
